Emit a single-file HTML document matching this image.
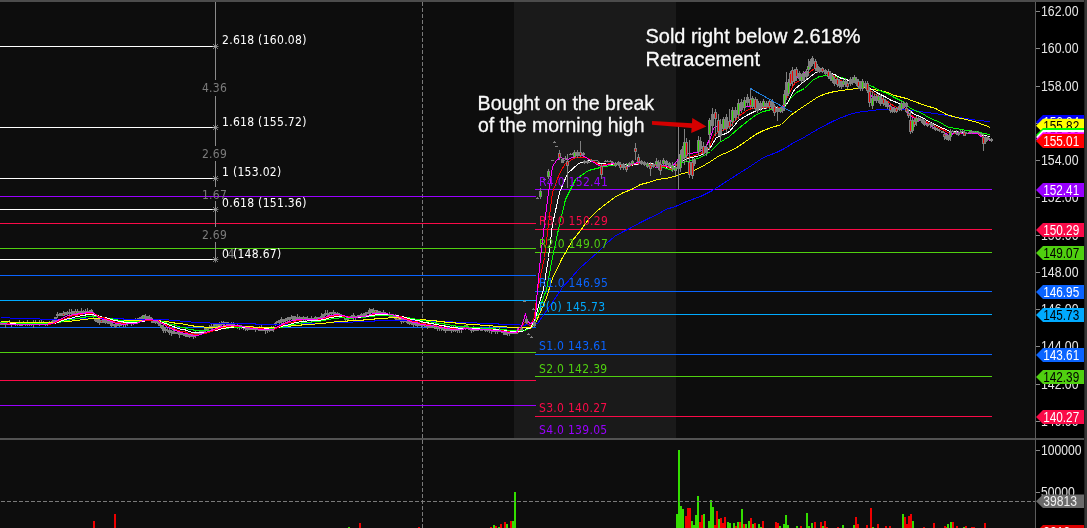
<!DOCTYPE html>
<html><head><meta charset="utf-8"><title>Chart</title>
<style>
html,body{margin:0;padding:0;background:#0d0d0d;}
body{width:1087px;height:528px;overflow:hidden;position:relative;}
svg{position:absolute;left:0;top:0;display:block;}
.t{font-family:"DejaVu Sans Condensed","DejaVu Sans",sans-serif;font-size:12px;letter-spacing:0.3px;}
.g{font-family:"DejaVu Sans Condensed","DejaVu Sans",sans-serif;font-size:12px;letter-spacing:0.3px;fill:#7c7c7c;}
.ax{font-family:"Liberation Sans",Arial,sans-serif;font-size:13.8px;}
.tg{font-family:"Liberation Sans",Arial,sans-serif;font-size:13.8px;}
.ann{font-family:"Liberation Sans",Arial,sans-serif;font-size:20.8px;fill:#fafafa;stroke:#fafafa;stroke-width:0.3px;}
</style></head><body>
<svg width="1087" height="528" viewBox="0 0 1087 528">
<rect x="0" y="0" width="1087" height="528" fill="#0d0d0d"/>
<rect x="514" y="2" width="162" height="436" fill="#1a1a1a"/>
<rect x="1036" y="2" width="48" height="526" fill="#000"/>
<g shape-rendering="crispEdges">
<rect x="93" y="521" width="2" height="7" fill="#ee0000"/>
<rect x="114" y="514" width="2" height="14" fill="#ee0000"/>
<rect x="348" y="527" width="2" height="1" fill="#33dd00"/>
<rect x="359" y="523" width="2" height="5" fill="#ee0000"/>
<rect x="418" y="527" width="2" height="1" fill="#ee0000"/>
<rect x="490" y="527" width="2" height="1" fill="#ee0000"/>
<rect x="493" y="525" width="2" height="3" fill="#33dd00"/>
<rect x="495" y="526" width="2" height="2" fill="#ee0000"/>
<rect x="498" y="527" width="2" height="1" fill="#33dd00"/>
<rect x="500" y="524" width="2" height="4" fill="#ee0000"/>
<rect x="504" y="522" width="2" height="6" fill="#ee0000"/>
<rect x="506" y="524" width="2" height="4" fill="#33dd00"/>
<rect x="510" y="521" width="2" height="7" fill="#ee0000"/>
<rect x="512" y="521" width="2" height="7" fill="#33dd00"/>
<rect x="514" y="492" width="2" height="36" fill="#33dd00"/>
<rect x="676" y="514" width="2" height="14" fill="#33dd00"/>
<rect x="678" y="450" width="2" height="78" fill="#33dd00"/>
<rect x="680" y="506" width="2" height="22" fill="#33dd00"/>
<rect x="682" y="509" width="2" height="19" fill="#33dd00"/>
<rect x="685" y="516" width="2" height="12" fill="#ee0000"/>
<rect x="687" y="508" width="2" height="20" fill="#ee0000"/>
<rect x="689" y="508" width="2" height="20" fill="#ee0000"/>
<rect x="691" y="521" width="2" height="7" fill="#33dd00"/>
<rect x="693" y="525" width="2" height="3" fill="#33dd00"/>
<rect x="695" y="515" width="2" height="13" fill="#33dd00"/>
<rect x="697" y="496" width="2" height="32" fill="#33dd00"/>
<rect x="699" y="522" width="2" height="6" fill="#ee0000"/>
<rect x="701" y="515" width="2" height="13" fill="#ee0000"/>
<rect x="703" y="514" width="2" height="14" fill="#33dd00"/>
<rect x="708" y="521" width="2" height="7" fill="#33dd00"/>
<rect x="710" y="500" width="2" height="28" fill="#33dd00"/>
<rect x="712" y="507" width="2" height="21" fill="#33dd00"/>
<rect x="714" y="525" width="2" height="3" fill="#ee0000"/>
<rect x="716" y="511" width="2" height="17" fill="#ee0000"/>
<rect x="718" y="519" width="2" height="9" fill="#33dd00"/>
<rect x="720" y="518" width="2" height="10" fill="#ee0000"/>
<rect x="722" y="523" width="2" height="5" fill="#ee0000"/>
<rect x="724" y="517" width="2" height="11" fill="#ee0000"/>
<rect x="727" y="522" width="2" height="6" fill="#33dd00"/>
<rect x="729" y="523" width="2" height="5" fill="#33dd00"/>
<rect x="733" y="523" width="2" height="5" fill="#33dd00"/>
<rect x="735" y="526" width="2" height="2" fill="#ee0000"/>
<rect x="737" y="522" width="2" height="6" fill="#33dd00"/>
<rect x="739" y="522" width="2" height="6" fill="#ee0000"/>
<rect x="741" y="509" width="2" height="19" fill="#33dd00"/>
<rect x="743" y="524" width="2" height="4" fill="#ee0000"/>
<rect x="745" y="524" width="2" height="4" fill="#33dd00"/>
<rect x="748" y="521" width="2" height="7" fill="#33dd00"/>
<rect x="750" y="518" width="2" height="10" fill="#ee0000"/>
<rect x="752" y="524" width="2" height="4" fill="#33dd00"/>
<rect x="754" y="523" width="2" height="5" fill="#ee0000"/>
<rect x="758" y="524" width="2" height="4" fill="#33dd00"/>
<rect x="760" y="527" width="2" height="1" fill="#33dd00"/>
<rect x="762" y="521" width="2" height="7" fill="#ee0000"/>
<rect x="775" y="522" width="2" height="6" fill="#ee0000"/>
<rect x="777" y="523" width="2" height="5" fill="#ee0000"/>
<rect x="779" y="526" width="2" height="2" fill="#33dd00"/>
<rect x="783" y="524" width="2" height="4" fill="#33dd00"/>
<rect x="785" y="515" width="2" height="13" fill="#33dd00"/>
<rect x="787" y="525" width="2" height="3" fill="#33dd00"/>
<rect x="796" y="526" width="2" height="2" fill="#33dd00"/>
<rect x="800" y="526" width="2" height="2" fill="#ee0000"/>
<rect x="806" y="513" width="2" height="15" fill="#33dd00"/>
<rect x="808" y="526" width="2" height="2" fill="#33dd00"/>
<rect x="811" y="523" width="2" height="5" fill="#33dd00"/>
<rect x="814" y="522" width="2" height="6" fill="#ee0000"/>
<rect x="820" y="522" width="2" height="6" fill="#ee0000"/>
<rect x="822" y="526" width="2" height="2" fill="#33dd00"/>
<rect x="824" y="521" width="2" height="7" fill="#ee0000"/>
<rect x="826" y="527" width="2" height="1" fill="#ee0000"/>
<rect x="837" y="527" width="2" height="1" fill="#ee0000"/>
<rect x="842" y="525" width="2" height="3" fill="#33dd00"/>
<rect x="853" y="525" width="2" height="3" fill="#33dd00"/>
<rect x="855" y="517" width="2" height="11" fill="#ee0000"/>
<rect x="857" y="524" width="2" height="4" fill="#ee0000"/>
<rect x="866" y="525" width="2" height="3" fill="#ee0000"/>
<rect x="870" y="508" width="2" height="20" fill="#ee0000"/>
<rect x="872" y="527" width="2" height="1" fill="#33dd00"/>
<rect x="877" y="524" width="2" height="4" fill="#ee0000"/>
<rect x="885" y="526" width="2" height="2" fill="#ee0000"/>
<rect x="889" y="526" width="2" height="2" fill="#ee0000"/>
<rect x="902" y="514" width="2" height="14" fill="#33dd00"/>
<rect x="904" y="517" width="2" height="11" fill="#ee0000"/>
<rect x="906" y="524" width="2" height="4" fill="#ee0000"/>
<rect x="908" y="516" width="2" height="12" fill="#ee0000"/>
<rect x="910" y="514" width="2" height="14" fill="#ee0000"/>
<rect x="912" y="521" width="2" height="7" fill="#33dd00"/>
<rect x="923" y="527" width="2" height="1" fill="#ee0000"/>
<rect x="933" y="523" width="2" height="5" fill="#ee0000"/>
<rect x="944" y="526" width="2" height="2" fill="#ee0000"/>
<rect x="946" y="527" width="2" height="1" fill="#ee0000"/>
<rect x="947" y="524" width="2" height="4" fill="#33dd00"/>
<rect x="950" y="522" width="2" height="6" fill="#33dd00"/>
<rect x="952" y="522" width="2" height="6" fill="#ee0000"/>
<rect x="956" y="526" width="2" height="2" fill="#ee0000"/>
<rect x="963" y="527" width="2" height="1" fill="#33dd00"/>
<rect x="965" y="526" width="2" height="2" fill="#ee0000"/>
<rect x="971" y="527" width="2" height="1" fill="#ee0000"/>
<rect x="973" y="527" width="2" height="1" fill="#ee0000"/>
<rect x="984" y="523" width="2" height="5" fill="#ee0000"/>
</g>
<g shape-rendering="crispEdges">
<line x1="422.5" y1="2" x2="422.5" y2="528" stroke="#7a7a7a" stroke-width="1" stroke-dasharray="4 2"/>
<line x1="1" y1="501.5" x2="1036" y2="501.5" stroke="#7a7a7a" stroke-width="1" stroke-dasharray="4 2"/>
<line x1="0" y1="196.5" x2="536" y2="196.5" stroke="#9900ff" stroke-width="1"/>
<line x1="0" y1="223.5" x2="536" y2="223.5" stroke="#fa0a48" stroke-width="1"/>
<line x1="0" y1="248.5" x2="536" y2="248.5" stroke="#50d010" stroke-width="1"/>
<line x1="0" y1="275.5" x2="536" y2="275.5" stroke="#0a64ff" stroke-width="1"/>
<line x1="0" y1="300.5" x2="536" y2="300.5" stroke="#00aaff" stroke-width="1"/>
<line x1="0" y1="327.5" x2="536" y2="327.5" stroke="#0a64ff" stroke-width="1"/>
<line x1="0" y1="352.5" x2="536" y2="352.5" stroke="#50d010" stroke-width="1"/>
<line x1="0" y1="380.5" x2="536" y2="380.5" stroke="#fa0a48" stroke-width="1"/>
<line x1="0" y1="405.5" x2="536" y2="405.5" stroke="#9900ff" stroke-width="1"/>
<line x1="535" y1="189.5" x2="992" y2="189.5" stroke="#9900ff" stroke-width="1"/>
<line x1="535" y1="229.5" x2="992" y2="229.5" stroke="#fa0a48" stroke-width="1"/>
<line x1="535" y1="252.5" x2="992" y2="252.5" stroke="#50d010" stroke-width="1"/>
<line x1="535" y1="291.5" x2="992" y2="291.5" stroke="#0a64ff" stroke-width="1"/>
<line x1="535" y1="314.5" x2="992" y2="314.5" stroke="#00aaff" stroke-width="1"/>
<line x1="535" y1="354.5" x2="992" y2="354.5" stroke="#0a64ff" stroke-width="1"/>
<line x1="535" y1="376.5" x2="992" y2="376.5" stroke="#50d010" stroke-width="1"/>
<line x1="535" y1="416.5" x2="992" y2="416.5" stroke="#fa0a48" stroke-width="1"/>
<line x1="535" y1="438.5" x2="992" y2="438.5" stroke="#9900ff" stroke-width="1"/>
<line x1="0" y1="46.5" x2="215" y2="46.5" stroke="#ffffff" stroke-width="1"/>
<line x1="0" y1="127.5" x2="215" y2="127.5" stroke="#ffffff" stroke-width="1"/>
<line x1="0" y1="178.5" x2="215" y2="178.5" stroke="#ffffff" stroke-width="1"/>
<line x1="0" y1="209.5" x2="215" y2="209.5" stroke="#ffffff" stroke-width="1"/>
<line x1="0" y1="259.5" x2="215" y2="259.5" stroke="#ffffff" stroke-width="1"/>
<line x1="215.5" y1="2" x2="215.5" y2="80" stroke="#8a8a8a" stroke-width="1"/>
<line x1="215.5" y1="96" x2="215.5" y2="146" stroke="#8a8a8a" stroke-width="1"/>
<line x1="215.5" y1="161" x2="215.5" y2="187" stroke="#8a8a8a" stroke-width="1"/>
<line x1="215.5" y1="201" x2="215.5" y2="227" stroke="#8a8a8a" stroke-width="1"/>
<line x1="215.5" y1="242" x2="215.5" y2="260" stroke="#8a8a8a" stroke-width="1"/>
</g>
<path d="M213,44L218,49M213,49L218,44M215.5,43.5V49.5M212.5,46.5H218.5" stroke="#9a9a9a" stroke-width="0.8" fill="none"/>
<path d="M213,125L218,130M213,130L218,125M215.5,124.5V130.5M212.5,127.5H218.5" stroke="#9a9a9a" stroke-width="0.8" fill="none"/>
<path d="M213,176L218,181M213,181L218,176M215.5,175.5V181.5M212.5,178.5H218.5" stroke="#9a9a9a" stroke-width="0.8" fill="none"/>
<path d="M213,207L218,212M213,212L218,207M215.5,206.5V212.5M212.5,209.5H218.5" stroke="#9a9a9a" stroke-width="0.8" fill="none"/>
<path d="M213,257L218,262M213,262L218,257M215.5,256.5V262.5M212.5,259.5H218.5" stroke="#9a9a9a" stroke-width="0.8" fill="none"/>
<text class="g" x="214.5" y="92.0" text-anchor="middle">4.36</text>
<text class="g" x="214.5" y="157.8" text-anchor="middle">2.69</text>
<text class="g" x="214.5" y="199.3" text-anchor="middle">1.67</text>
<text class="g" x="214.5" y="238.60000000000002" text-anchor="middle">2.69</text>
<g shape-rendering="crispEdges">
<polyline points="0.5,317.5 3.5,317.5 5.5,317.5 8.5,317.5 11.5,318.5 14.5,318.5 16.5,318.5 19.5,318.5 22.5,318.5 24.5,318.5 27.5,318.5 30.5,318.5 32.5,318.5 35.5,318.5 38.5,318.5 41.5,319.5 43.5,319.5 46.5,319.5 49.5,319.5 51.5,319.5 54.5,319.5 57.5,319.5 59.5,319.5 62.5,319.5 65.5,319.5 68.5,319.5 70.5,318.5 73.5,318.5 76.5,318.5 78.5,318.5 81.5,318.5 84.5,318.5 86.5,318.5 89.5,318.5 92.5,318.5 95.5,318.5 97.5,318.5 100.5,318.5 103.5,318.5 105.5,318.5 108.5,318.5 111.5,318.5 113.5,318.5 116.5,318.5 119.5,318.5 122.5,318.5 124.5,319.5 127.5,319.5 130.5,319.5 132.5,319.5 135.5,319.5 138.5,319.5 140.5,319.5 143.5,319.5 146.5,319.5 148.5,319.5 151.5,319.5 154.5,319.5 157.5,319.5 159.5,319.5 162.5,319.5 165.5,319.5 167.5,319.5 170.5,320.5 173.5,320.5 175.5,320.5 178.5,320.5 181.5,321.5 184.5,321.5 186.5,321.5 189.5,321.5 192.5,322.5 194.5,322.5 197.5,322.5 200.5,322.5 202.5,322.5 205.5,322.5 208.5,322.5 211.5,323.5 213.5,323.5 216.5,323.5 219.5,323.5 221.5,323.5 224.5,323.5 227.5,323.5 229.5,323.5 232.5,323.5 235.5,323.5 238.5,323.5 240.5,323.5 243.5,323.5 246.5,323.5 248.5,323.5 251.5,323.5 254.5,323.5 256.5,324.5 259.5,324.5 262.5,324.5 265.5,324.5 267.5,324.5 270.5,324.5 273.5,324.5 275.5,324.5 278.5,324.5 281.5,324.5 283.5,324.5 286.5,324.5 289.5,324.5 292.5,324.5 294.5,324.5 297.5,323.5 300.5,323.5 302.5,323.5 305.5,323.5 308.5,323.5 310.5,323.5 313.5,323.5 316.5,323.5 319.5,323.5 321.5,323.5 324.5,323.5 327.5,322.5 329.5,322.5 332.5,322.5 335.5,322.5 337.5,322.5 340.5,322.5 343.5,322.5 346.5,322.5 348.5,322.5 351.5,322.5 354.5,321.5 356.5,321.5 359.5,321.5 362.5,321.5 364.5,321.5 367.5,321.5 370.5,321.5 373.5,321.5 375.5,320.5 378.5,320.5 381.5,320.5 383.5,320.5 386.5,320.5 389.5,320.5 391.5,320.5 394.5,320.5 397.5,320.5 400.5,320.5 402.5,320.5 405.5,320.5 408.5,320.5 410.5,320.5 413.5,320.5 416.5,320.5 418.5,320.5 421.5,320.5 424.5,320.5 427.5,320.5 429.5,320.5 432.5,321.5 435.5,321.5 437.5,321.5 440.5,321.5 443.5,321.5 445.5,321.5 448.5,321.5 451.5,321.5 454.5,322.5 456.5,322.5 459.5,322.5 462.5,322.5 464.5,322.5 467.5,322.5 470.5,322.5 472.5,322.5 475.5,322.5 478.5,323.5 481.5,323.5 483.5,323.5 486.5,323.5 489.5,323.5 491.5,323.5 494.5,323.5 497.5,323.5 499.5,324.5 502.5,324.5 505.5,324.5 508.5,324.5 510.5,324.5 513.5,324.5 516.5,324.5 518.5,324.5 521.5,325.5 524.5,325.5 526.5,324.5 529.5,324.5 530.5,325.5 537.5,323.5 549.5,306.5 562.5,287.5 579.5,268.5 588.5,260.5 597.5,252.5 606.5,243.5 614.5,236.5 623.5,231.5 631.5,227.5 640.5,222.5 648.5,218.5 657.5,214.5 665.5,209.5 675.5,206.5 686.5,201.5 700.5,196.5 712.5,190.5 729.5,179.5 748.5,167.5 763.5,157.5 776.5,152.5 784.5,148.5 795.5,141.5 800.5,139.5 810.5,133.5 815.5,130.5 828.5,123.5 834.5,120.5 841.5,117.5 849.5,114.5 856.5,112.5 864.5,111.5 872.5,110.5 879.5,109.5 887.5,109.5 895.5,109.5 904.5,109.5 914.5,110.5 925.5,112.5 935.5,113.5 946.5,115.5 956.5,117.5 966.5,118.5 977.5,120.5 990.5,121.5" fill="none" stroke="#0000ff" stroke-width="1"/>
<polyline points="0.5,321.5 3.5,321.5 5.5,321.5 8.5,321.5 11.5,322.5 14.5,322.5 16.5,322.5 19.5,322.5 22.5,322.5 24.5,322.5 27.5,322.5 30.5,322.5 32.5,322.5 35.5,322.5 38.5,322.5 41.5,322.5 43.5,322.5 46.5,322.5 49.5,322.5 51.5,322.5 54.5,322.5 57.5,322.5 59.5,322.5 62.5,321.5 65.5,321.5 68.5,321.5 70.5,321.5 73.5,320.5 76.5,320.5 78.5,320.5 81.5,319.5 84.5,319.5 86.5,319.5 89.5,318.5 92.5,318.5 95.5,318.5 97.5,318.5 100.5,318.5 103.5,319.5 105.5,319.5 108.5,319.5 111.5,319.5 113.5,319.5 116.5,319.5 119.5,320.5 122.5,320.5 124.5,320.5 127.5,320.5 130.5,320.5 132.5,320.5 135.5,320.5 138.5,320.5 140.5,320.5 143.5,320.5 146.5,320.5 148.5,320.5 151.5,320.5 154.5,320.5 157.5,320.5 159.5,320.5 162.5,321.5 165.5,321.5 167.5,321.5 170.5,322.5 173.5,322.5 175.5,323.5 178.5,323.5 181.5,323.5 184.5,324.5 186.5,324.5 189.5,325.5 192.5,325.5 194.5,326.5 197.5,326.5 200.5,326.5 202.5,326.5 205.5,327.5 208.5,327.5 211.5,327.5 213.5,327.5 216.5,327.5 219.5,326.5 221.5,326.5 224.5,326.5 227.5,326.5 229.5,326.5 232.5,326.5 235.5,326.5 238.5,326.5 240.5,326.5 243.5,326.5 246.5,326.5 248.5,326.5 251.5,326.5 254.5,327.5 256.5,327.5 259.5,327.5 262.5,327.5 265.5,327.5 267.5,327.5 270.5,327.5 273.5,327.5 275.5,327.5 278.5,327.5 281.5,327.5 283.5,326.5 286.5,326.5 289.5,326.5 292.5,325.5 294.5,325.5 297.5,325.5 300.5,325.5 302.5,324.5 305.5,324.5 308.5,324.5 310.5,324.5 313.5,324.5 316.5,323.5 319.5,323.5 321.5,323.5 324.5,323.5 327.5,322.5 329.5,322.5 332.5,322.5 335.5,321.5 337.5,321.5 340.5,321.5 343.5,321.5 346.5,321.5 348.5,320.5 351.5,320.5 354.5,320.5 356.5,320.5 359.5,320.5 362.5,320.5 364.5,319.5 367.5,319.5 370.5,319.5 373.5,319.5 375.5,318.5 378.5,318.5 381.5,318.5 383.5,318.5 386.5,318.5 389.5,317.5 391.5,317.5 394.5,317.5 397.5,317.5 400.5,318.5 402.5,318.5 405.5,318.5 408.5,318.5 410.5,318.5 413.5,318.5 416.5,319.5 418.5,319.5 421.5,319.5 424.5,319.5 427.5,320.5 429.5,320.5 432.5,320.5 435.5,320.5 437.5,321.5 440.5,321.5 443.5,321.5 445.5,322.5 448.5,322.5 451.5,322.5 454.5,322.5 456.5,323.5 459.5,323.5 462.5,323.5 464.5,323.5 467.5,324.5 470.5,324.5 472.5,324.5 475.5,324.5 478.5,324.5 481.5,325.5 483.5,325.5 486.5,325.5 489.5,325.5 491.5,325.5 494.5,326.5 497.5,326.5 499.5,326.5 502.5,326.5 505.5,326.5 508.5,327.5 510.5,327.5 513.5,327.5 516.5,327.5 518.5,327.5 521.5,327.5 524.5,327.5 526.5,327.5 529.5,327.5 530.5,328.5 535.5,323.5 546.5,297.5 552.5,278.5 561.5,259.5 572.5,240.5 580.5,230.5 588.5,219.5 597.5,210.5 606.5,203.5 614.5,197.5 623.5,192.5 631.5,189.5 640.5,184.5 648.5,182.5 657.5,179.5 665.5,178.5 674.5,176.5 682.5,173.5 691.5,171.5 700.5,167.5 710.5,161.5 719.5,155.5 729.5,151.5 738.5,146.5 748.5,139.5 755.5,134.5 763.5,130.5 771.5,127.5 781.5,124.5 790.5,115.5 800.5,108.5 809.5,102.5 818.5,96.5 826.5,93.5 834.5,91.5 841.5,90.5 849.5,89.5 856.5,88.5 864.5,87.5 872.5,89.5 879.5,90.5 887.5,92.5 894.5,95.5 906.5,98.5 911.5,100.5 925.5,105.5 935.5,108.5 946.5,114.5 956.5,117.5 966.5,119.5 977.5,122.5 990.5,127.5" fill="none" stroke="#ffff00" stroke-width="1"/>
<polyline points="0.5,322.5 3.5,322.5 5.5,322.5 8.5,323.5 11.5,323.5 14.5,323.5 16.5,323.5 19.5,323.5 22.5,323.5 24.5,323.5 27.5,323.5 30.5,323.5 32.5,323.5 35.5,323.5 38.5,323.5 41.5,323.5 43.5,323.5 46.5,323.5 49.5,323.5 51.5,323.5 54.5,323.5 57.5,322.5 59.5,322.5 62.5,321.5 65.5,320.5 68.5,320.5 70.5,319.5 73.5,319.5 76.5,318.5 78.5,318.5 81.5,317.5 84.5,317.5 86.5,316.5 89.5,316.5 92.5,316.5 95.5,316.5 97.5,316.5 100.5,317.5 103.5,317.5 105.5,317.5 108.5,318.5 111.5,318.5 113.5,319.5 116.5,319.5 119.5,320.5 122.5,320.5 124.5,321.5 127.5,321.5 130.5,321.5 132.5,321.5 135.5,321.5 138.5,321.5 140.5,321.5 143.5,320.5 146.5,320.5 148.5,320.5 151.5,320.5 154.5,320.5 157.5,320.5 159.5,321.5 162.5,321.5 165.5,322.5 167.5,323.5 170.5,324.5 173.5,324.5 175.5,325.5 178.5,326.5 181.5,327.5 184.5,327.5 186.5,328.5 189.5,329.5 192.5,329.5 194.5,330.5 197.5,330.5 200.5,330.5 202.5,330.5 205.5,330.5 208.5,330.5 211.5,330.5 213.5,330.5 216.5,329.5 219.5,329.5 221.5,328.5 224.5,328.5 227.5,328.5 229.5,327.5 232.5,327.5 235.5,327.5 238.5,327.5 240.5,327.5 243.5,327.5 246.5,327.5 248.5,327.5 251.5,327.5 254.5,328.5 256.5,328.5 259.5,328.5 262.5,328.5 265.5,328.5 267.5,328.5 270.5,328.5 273.5,328.5 275.5,328.5 278.5,327.5 281.5,327.5 283.5,326.5 286.5,326.5 289.5,325.5 292.5,324.5 294.5,324.5 297.5,323.5 300.5,323.5 302.5,322.5 305.5,322.5 308.5,322.5 310.5,322.5 313.5,321.5 316.5,321.5 319.5,321.5 321.5,320.5 324.5,320.5 327.5,319.5 329.5,319.5 332.5,318.5 335.5,318.5 337.5,318.5 340.5,317.5 343.5,317.5 346.5,318.5 348.5,318.5 351.5,318.5 354.5,317.5 356.5,317.5 359.5,317.5 362.5,317.5 364.5,317.5 367.5,316.5 370.5,316.5 373.5,316.5 375.5,315.5 378.5,315.5 381.5,315.5 383.5,315.5 386.5,315.5 389.5,315.5 391.5,315.5 394.5,315.5 397.5,315.5 400.5,316.5 402.5,316.5 405.5,317.5 408.5,317.5 410.5,318.5 413.5,318.5 416.5,319.5 418.5,319.5 421.5,320.5 424.5,320.5 427.5,321.5 429.5,321.5 432.5,322.5 435.5,322.5 437.5,323.5 440.5,323.5 443.5,323.5 445.5,324.5 448.5,324.5 451.5,325.5 454.5,325.5 456.5,326.5 459.5,326.5 462.5,326.5 464.5,326.5 467.5,326.5 470.5,327.5 472.5,327.5 475.5,327.5 478.5,327.5 481.5,328.5 483.5,328.5 486.5,328.5 489.5,328.5 491.5,328.5 494.5,328.5 497.5,329.5 499.5,329.5 502.5,329.5 505.5,329.5 508.5,330.5 510.5,330.5 513.5,330.5 516.5,330.5 518.5,330.5 521.5,330.5 524.5,330.5 526.5,329.5 529.5,328.5 530.5,327.5 535.5,320.5 540.5,305.5 546.5,289.5 552.5,257.5 559.5,224.5 565.5,199.5 575.5,179.5 588.5,170.5 604.5,166.5 620.5,164.5 630.5,164.5 640.5,163.5 650.5,164.5 660.5,166.5 672.5,170.5 682.5,162.5 691.5,160.5 700.5,157.5 710.5,151.5 719.5,142.5 729.5,136.5 738.5,128.5 748.5,120.5 756.5,114.5 763.5,111.5 771.5,109.5 778.5,109.5 784.5,107.5 790.5,98.5 796.5,92.5 804.5,88.5 812.5,80.5 819.5,76.5 826.5,75.5 834.5,76.5 841.5,77.5 849.5,80.5 856.5,81.5 865.5,83.5 872.5,86.5 879.5,90.5 887.5,93.5 894.5,97.5 904.5,102.5 909.5,107.5 914.5,110.5 920.5,112.5 925.5,115.5 930.5,118.5 935.5,120.5 940.5,122.5 946.5,126.5 949.5,127.5 956.5,128.5 966.5,130.5 977.5,131.5 983.5,133.5 990.5,134.5" fill="none" stroke="#00ff00" stroke-width="1"/>
<polyline points="0.5,323.5 3.5,323.5 5.5,323.5 8.5,323.5 11.5,323.5 14.5,323.5 16.5,324.5 19.5,324.5 22.5,324.5 24.5,324.5 27.5,324.5 30.5,324.5 32.5,324.5 35.5,324.5 38.5,324.5 41.5,324.5 43.5,324.5 46.5,324.5 49.5,324.5 51.5,323.5 54.5,323.5 57.5,322.5 59.5,321.5 62.5,320.5 65.5,319.5 68.5,318.5 70.5,318.5 73.5,317.5 76.5,316.5 78.5,316.5 81.5,315.5 84.5,315.5 86.5,314.5 89.5,314.5 92.5,314.5 95.5,315.5 97.5,315.5 100.5,316.5 103.5,317.5 105.5,317.5 108.5,318.5 111.5,319.5 113.5,320.5 116.5,320.5 119.5,321.5 122.5,321.5 124.5,322.5 127.5,322.5 130.5,322.5 132.5,322.5 135.5,322.5 138.5,322.5 140.5,321.5 143.5,321.5 146.5,320.5 148.5,320.5 151.5,320.5 154.5,320.5 157.5,320.5 159.5,321.5 162.5,322.5 165.5,323.5 167.5,324.5 170.5,325.5 173.5,326.5 175.5,327.5 178.5,328.5 181.5,329.5 184.5,329.5 186.5,330.5 189.5,331.5 192.5,332.5 194.5,332.5 197.5,332.5 200.5,332.5 202.5,332.5 205.5,332.5 208.5,331.5 211.5,331.5 213.5,330.5 216.5,330.5 219.5,329.5 221.5,328.5 224.5,328.5 227.5,327.5 229.5,327.5 232.5,327.5 235.5,326.5 238.5,326.5 240.5,326.5 243.5,327.5 246.5,327.5 248.5,327.5 251.5,327.5 254.5,328.5 256.5,328.5 259.5,328.5 262.5,328.5 265.5,328.5 267.5,328.5 270.5,329.5 273.5,329.5 275.5,328.5 278.5,327.5 281.5,326.5 283.5,325.5 286.5,325.5 289.5,324.5 292.5,323.5 294.5,322.5 297.5,322.5 300.5,321.5 302.5,321.5 305.5,321.5 308.5,320.5 310.5,320.5 313.5,320.5 316.5,320.5 319.5,320.5 321.5,319.5 324.5,319.5 327.5,318.5 329.5,317.5 332.5,317.5 335.5,316.5 337.5,316.5 340.5,316.5 343.5,316.5 346.5,316.5 348.5,317.5 351.5,317.5 354.5,317.5 356.5,317.5 359.5,317.5 362.5,316.5 364.5,316.5 367.5,316.5 370.5,315.5 373.5,315.5 375.5,314.5 378.5,314.5 381.5,314.5 383.5,314.5 386.5,314.5 389.5,314.5 391.5,314.5 394.5,315.5 397.5,315.5 400.5,316.5 402.5,316.5 405.5,317.5 408.5,318.5 410.5,319.5 413.5,319.5 416.5,320.5 418.5,320.5 421.5,321.5 424.5,322.5 427.5,322.5 429.5,323.5 432.5,323.5 435.5,324.5 437.5,324.5 440.5,325.5 443.5,325.5 445.5,326.5 448.5,326.5 451.5,327.5 454.5,327.5 456.5,327.5 459.5,328.5 462.5,328.5 464.5,328.5 467.5,328.5 470.5,328.5 472.5,328.5 475.5,328.5 478.5,328.5 481.5,329.5 483.5,329.5 486.5,329.5 489.5,329.5 491.5,329.5 494.5,329.5 497.5,329.5 499.5,330.5 502.5,330.5 505.5,330.5 508.5,331.5 510.5,331.5 513.5,331.5 516.5,331.5 518.5,331.5 521.5,331.5 524.5,330.5 526.5,328.5 529.5,328.5 530.5,327.5 535.5,318.5 538.5,305.5 543.5,289.5 548.5,257.5 552.5,224.5 559.5,192.5 567.5,173.5 578.5,163.5 588.5,160.5 600.5,163.5 610.5,164.5 620.5,164.5 630.5,165.5 640.5,163.5 650.5,163.5 660.5,165.5 672.5,168.5 682.5,160.5 691.5,157.5 700.5,155.5 710.5,147.5 716.5,137.5 723.5,134.5 729.5,131.5 738.5,120.5 748.5,114.5 756.5,110.5 763.5,108.5 772.5,106.5 781.5,108.5 786.5,104.5 794.5,89.5 801.5,83.5 809.5,77.5 815.5,72.5 821.5,70.5 826.5,72.5 834.5,74.5 841.5,78.5 849.5,80.5 856.5,81.5 864.5,83.5 870.5,88.5 876.5,92.5 884.5,96.5 891.5,100.5 899.5,103.5 904.5,105.5 909.5,110.5 914.5,114.5 920.5,116.5 925.5,119.5 930.5,122.5 935.5,124.5 940.5,127.5 946.5,129.5 949.5,131.5 956.5,131.5 966.5,133.5 977.5,133.5 983.5,135.5 990.5,136.5" fill="none" stroke="#ffffff" stroke-width="1"/>
<polyline points="0.5,323.5 3.5,323.5 5.5,323.5 8.5,323.5 11.5,324.5 14.5,324.5 16.5,324.5 19.5,324.5 22.5,324.5 24.5,324.5 27.5,324.5 30.5,324.5 32.5,324.5 35.5,324.5 38.5,324.5 41.5,324.5 43.5,324.5 46.5,324.5 49.5,324.5 51.5,323.5 54.5,323.5 57.5,321.5 59.5,320.5 62.5,319.5 65.5,318.5 68.5,317.5 70.5,316.5 73.5,315.5 76.5,315.5 78.5,314.5 81.5,314.5 84.5,313.5 86.5,313.5 89.5,313.5 92.5,313.5 95.5,314.5 97.5,315.5 100.5,317.5 103.5,317.5 105.5,318.5 108.5,319.5 111.5,320.5 113.5,321.5 116.5,322.5 119.5,322.5 122.5,323.5 124.5,323.5 127.5,323.5 130.5,323.5 132.5,323.5 135.5,323.5 138.5,322.5 140.5,321.5 143.5,320.5 146.5,320.5 148.5,320.5 151.5,320.5 154.5,320.5 157.5,320.5 159.5,321.5 162.5,323.5 165.5,324.5 167.5,325.5 170.5,327.5 173.5,328.5 175.5,329.5 178.5,330.5 181.5,331.5 184.5,331.5 186.5,332.5 189.5,333.5 192.5,333.5 194.5,334.5 197.5,334.5 200.5,334.5 202.5,333.5 205.5,333.5 208.5,332.5 211.5,331.5 213.5,330.5 216.5,329.5 219.5,328.5 221.5,327.5 224.5,327.5 227.5,326.5 229.5,326.5 232.5,325.5 235.5,326.5 238.5,326.5 240.5,326.5 243.5,326.5 246.5,327.5 248.5,327.5 251.5,327.5 254.5,328.5 256.5,328.5 259.5,328.5 262.5,328.5 265.5,329.5 267.5,329.5 270.5,329.5 273.5,329.5 275.5,328.5 278.5,327.5 281.5,325.5 283.5,324.5 286.5,323.5 289.5,322.5 292.5,322.5 294.5,321.5 297.5,320.5 300.5,320.5 302.5,319.5 305.5,319.5 308.5,319.5 310.5,319.5 313.5,319.5 316.5,319.5 319.5,319.5 321.5,318.5 324.5,318.5 327.5,317.5 329.5,316.5 332.5,316.5 335.5,315.5 337.5,315.5 340.5,315.5 343.5,316.5 346.5,316.5 348.5,316.5 351.5,317.5 354.5,317.5 356.5,317.5 359.5,316.5 362.5,316.5 364.5,316.5 367.5,315.5 370.5,314.5 373.5,314.5 375.5,313.5 378.5,313.5 381.5,313.5 383.5,313.5 386.5,313.5 389.5,314.5 391.5,314.5 394.5,315.5 397.5,316.5 400.5,316.5 402.5,317.5 405.5,318.5 408.5,319.5 410.5,320.5 413.5,321.5 416.5,321.5 418.5,322.5 421.5,323.5 424.5,323.5 427.5,324.5 429.5,324.5 432.5,325.5 435.5,325.5 437.5,326.5 440.5,326.5 443.5,327.5 445.5,327.5 448.5,328.5 451.5,328.5 454.5,328.5 456.5,329.5 459.5,329.5 462.5,329.5 464.5,328.5 467.5,328.5 470.5,328.5 472.5,329.5 475.5,329.5 478.5,329.5 481.5,329.5 483.5,329.5 486.5,329.5 489.5,329.5 491.5,329.5 494.5,330.5 497.5,330.5 499.5,330.5 502.5,330.5 505.5,331.5 508.5,331.5 510.5,332.5 513.5,332.5 516.5,332.5 518.5,331.5 520.5,328.5 524.5,322.5 527.5,323.5 530.5,326.5 534.5,316.5 537.5,290.5 540.5,275.5 544.5,257.5 548.5,224.5 552.5,192.5 559.5,173.5 565.5,163.5 575.5,157.5 585.5,157.5 592.5,160.5 600.5,165.5 610.5,163.5 620.5,165.5 627.5,166.5 635.5,163.5 645.5,163.5 655.5,165.5 665.5,166.5 672.5,169.5 682.5,158.5 691.5,156.5 700.5,153.5 708.5,149.5 714.5,134.5 719.5,131.5 729.5,127.5 738.5,116.5 748.5,109.5 752.5,108.5 763.5,107.5 775.5,108.5 783.5,106.5 787.5,96.5 794.5,83.5 801.5,79.5 809.5,72.5 815.5,67.5 821.5,70.5 828.5,71.5 836.5,78.5 846.5,83.5 856.5,82.5 864.5,84.5 870.5,90.5 878.5,96.5 886.5,100.5 894.5,106.5 900.5,108.5 904.5,107.5 910.5,114.5 914.5,117.5 925.5,121.5 935.5,126.5 940.5,128.5 946.5,131.5 949.5,133.5 977.5,133.5 983.5,137.5 990.5,138.5" fill="none" stroke="#ff0000" stroke-width="1"/>
<polyline points="0.5,323.5 3.5,323.5 5.5,323.5 8.5,324.5 11.5,324.5 14.5,324.5 16.5,324.5 19.5,324.5 22.5,324.5 24.5,324.5 27.5,324.5 30.5,324.5 32.5,324.5 35.5,324.5 38.5,324.5 41.5,324.5 43.5,324.5 46.5,324.5 49.5,323.5 51.5,323.5 54.5,322.5 57.5,320.5 59.5,319.5 62.5,318.5 65.5,316.5 68.5,315.5 70.5,315.5 73.5,314.5 76.5,314.5 78.5,313.5 81.5,313.5 84.5,313.5 86.5,312.5 89.5,312.5 92.5,312.5 95.5,314.5 97.5,316.5 100.5,318.5 103.5,319.5 105.5,319.5 108.5,320.5 111.5,321.5 113.5,322.5 116.5,323.5 119.5,323.5 122.5,324.5 124.5,324.5 127.5,323.5 130.5,323.5 132.5,323.5 135.5,323.5 138.5,322.5 140.5,321.5 143.5,320.5 146.5,319.5 148.5,319.5 151.5,319.5 154.5,320.5 157.5,320.5 159.5,322.5 162.5,323.5 165.5,325.5 167.5,327.5 170.5,328.5 173.5,329.5 175.5,330.5 178.5,331.5 181.5,332.5 184.5,333.5 186.5,333.5 189.5,334.5 192.5,335.5 194.5,335.5 197.5,335.5 200.5,334.5 202.5,333.5 205.5,332.5 208.5,331.5 211.5,330.5 213.5,329.5 216.5,328.5 219.5,327.5 221.5,326.5 224.5,325.5 227.5,325.5 229.5,325.5 232.5,325.5 235.5,325.5 238.5,325.5 240.5,326.5 243.5,326.5 246.5,327.5 248.5,327.5 251.5,328.5 254.5,328.5 256.5,328.5 259.5,329.5 262.5,329.5 265.5,329.5 267.5,329.5 270.5,329.5 273.5,329.5 275.5,327.5 278.5,326.5 281.5,324.5 283.5,323.5 286.5,322.5 289.5,321.5 292.5,320.5 294.5,320.5 297.5,319.5 300.5,319.5 302.5,319.5 305.5,319.5 308.5,319.5 310.5,319.5 313.5,319.5 316.5,319.5 319.5,318.5 321.5,318.5 324.5,317.5 327.5,316.5 329.5,315.5 332.5,315.5 335.5,314.5 337.5,314.5 340.5,315.5 343.5,315.5 346.5,316.5 348.5,317.5 351.5,317.5 354.5,317.5 356.5,317.5 359.5,316.5 362.5,316.5 364.5,316.5 367.5,315.5 370.5,314.5 373.5,313.5 375.5,313.5 378.5,313.5 381.5,313.5 383.5,313.5 386.5,313.5 389.5,314.5 391.5,314.5 394.5,315.5 397.5,316.5 400.5,317.5 402.5,318.5 405.5,319.5 408.5,320.5 410.5,321.5 413.5,322.5 416.5,322.5 418.5,323.5 421.5,324.5 424.5,324.5 427.5,325.5 429.5,325.5 432.5,325.5 435.5,326.5 437.5,326.5 440.5,327.5 443.5,327.5 445.5,328.5 448.5,328.5 451.5,329.5 454.5,329.5 456.5,329.5 459.5,329.5 462.5,329.5 464.5,328.5 467.5,328.5 470.5,328.5 472.5,329.5 475.5,329.5 478.5,329.5 481.5,329.5 483.5,329.5 486.5,329.5 489.5,329.5 491.5,330.5 494.5,330.5 497.5,330.5 499.5,330.5 502.5,331.5 505.5,331.5 508.5,332.5 510.5,332.5 513.5,332.5 516.5,332.5 518.5,328.5 521.5,326.5 523.5,320.5 525.5,313.5 526.5,318.5 528.5,322.5 530.5,323.5 532.5,322.5 535.5,320.5 536.5,300.5 537.5,289.5 540.5,257.5 544.5,224.5 548.5,192.5 552.5,166.5 556.5,160.5 560.5,157.5 567.5,159.5 572.5,157.5 578.5,154.5 584.5,156.5 590.5,160.5 600.5,166.5 605.5,165.5 612.5,163.5 620.5,165.5 627.5,167.5 633.5,163.5 638.5,162.5 645.5,163.5 650.5,165.5 656.5,167.5 663.5,165.5 668.5,166.5 672.5,166.5 680.5,156.5 683.5,151.5 689.5,153.5 697.5,152.5 704.5,149.5 710.5,137.5 713.5,128.5 716.5,126.5 721.5,128.5 729.5,122.5 736.5,113.5 744.5,106.5 748.5,106.5 757.5,106.5 766.5,104.5 772.5,106.5 778.5,110.5 783.5,108.5 787.5,86.5 794.5,77.5 801.5,76.5 809.5,67.5 813.5,62.5 818.5,67.5 824.5,70.5 830.5,76.5 838.5,82.5 846.5,84.5 854.5,80.5 860.5,84.5 866.5,86.5 870.5,95.5 876.5,98.5 884.5,101.5 890.5,106.5 896.5,109.5 902.5,106.5 904.5,107.5 910.5,116.5 920.5,120.5 925.5,122.5 935.5,128.5 946.5,133.5 949.5,136.5 954.5,132.5 966.5,133.5 977.5,133.5 983.5,138.5 990.5,140.5" fill="none" stroke="#ff00ff" stroke-width="1"/>
</g>
<g shape-rendering="crispEdges">
<rect x="1" y="321" width="1" height="4" fill="#808080"/>
<rect x="0" y="322" width="3" height="3" fill="#808080"/>
<rect x="3" y="322" width="1" height="3" fill="#808080"/>
<rect x="2" y="322" width="3" height="3" fill="#808080"/>
<rect x="3" y="323" width="1" height="1" fill="#33dd00"/>
<rect x="5" y="322" width="1" height="6" fill="#808080"/>
<rect x="4" y="322" width="3" height="3" fill="#808080"/>
<rect x="7" y="322" width="1" height="3" fill="#808080"/>
<rect x="6" y="323" width="3" height="2" fill="#808080"/>
<rect x="9" y="320" width="1" height="5" fill="#808080"/>
<rect x="8" y="323" width="3" height="2" fill="#808080"/>
<rect x="11" y="323" width="1" height="4" fill="#808080"/>
<rect x="10" y="323" width="3" height="2" fill="#808080"/>
<rect x="13" y="323" width="1" height="2" fill="#808080"/>
<rect x="12" y="323" width="3" height="2" fill="#808080"/>
<rect x="15" y="322" width="1" height="4" fill="#808080"/>
<rect x="14" y="323" width="3" height="2" fill="#808080"/>
<rect x="17" y="322" width="1" height="4" fill="#808080"/>
<rect x="16" y="323" width="3" height="2" fill="#808080"/>
<rect x="19" y="320" width="1" height="6" fill="#808080"/>
<rect x="18" y="323" width="3" height="2" fill="#808080"/>
<rect x="21" y="322" width="1" height="4" fill="#808080"/>
<rect x="20" y="322" width="3" height="4" fill="#808080"/>
<rect x="23" y="321" width="1" height="4" fill="#808080"/>
<rect x="22" y="323" width="3" height="2" fill="#808080"/>
<rect x="25" y="322" width="1" height="4" fill="#808080"/>
<rect x="24" y="323" width="3" height="2" fill="#808080"/>
<rect x="27" y="320" width="1" height="6" fill="#808080"/>
<rect x="26" y="322" width="3" height="3" fill="#808080"/>
<rect x="27" y="323" width="1" height="1" fill="#ee0000"/>
<rect x="29" y="322" width="1" height="4" fill="#808080"/>
<rect x="28" y="322" width="3" height="3" fill="#808080"/>
<rect x="31" y="322" width="1" height="4" fill="#808080"/>
<rect x="30" y="323" width="3" height="1" fill="#808080"/>
<rect x="33" y="320" width="1" height="8" fill="#808080"/>
<rect x="32" y="322" width="3" height="3" fill="#808080"/>
<rect x="35" y="320" width="1" height="4" fill="#808080"/>
<rect x="34" y="323" width="3" height="1" fill="#808080"/>
<rect x="37" y="322" width="1" height="3" fill="#808080"/>
<rect x="36" y="322" width="3" height="3" fill="#808080"/>
<rect x="39" y="320" width="1" height="6" fill="#808080"/>
<rect x="38" y="322" width="3" height="3" fill="#808080"/>
<rect x="41" y="320" width="1" height="5" fill="#808080"/>
<rect x="40" y="322" width="3" height="3" fill="#808080"/>
<rect x="43" y="321" width="1" height="4" fill="#808080"/>
<rect x="42" y="322" width="3" height="3" fill="#808080"/>
<rect x="45" y="322" width="1" height="4" fill="#808080"/>
<rect x="44" y="323" width="3" height="1" fill="#808080"/>
<rect x="47" y="322" width="1" height="4" fill="#808080"/>
<rect x="46" y="322" width="3" height="3" fill="#808080"/>
<rect x="49" y="321" width="1" height="4" fill="#808080"/>
<rect x="48" y="322" width="3" height="2" fill="#808080"/>
<rect x="51" y="321" width="1" height="3" fill="#808080"/>
<rect x="50" y="322" width="3" height="1" fill="#808080"/>
<rect x="53" y="320" width="1" height="2" fill="#808080"/>
<rect x="52" y="320" width="3" height="2" fill="#808080"/>
<rect x="55" y="317" width="1" height="4" fill="#808080"/>
<rect x="54" y="317" width="3" height="4" fill="#808080"/>
<rect x="57" y="312" width="1" height="6" fill="#808080"/>
<rect x="56" y="314" width="3" height="2" fill="#808080"/>
<rect x="59" y="313" width="1" height="3" fill="#808080"/>
<rect x="58" y="314" width="3" height="2" fill="#808080"/>
<rect x="61" y="313" width="1" height="3" fill="#808080"/>
<rect x="60" y="313" width="3" height="3" fill="#808080"/>
<rect x="63" y="311" width="1" height="5" fill="#808080"/>
<rect x="62" y="313" width="3" height="3" fill="#808080"/>
<rect x="63" y="314" width="1" height="1" fill="#ee0000"/>
<rect x="65" y="312" width="1" height="3" fill="#808080"/>
<rect x="64" y="312" width="3" height="3" fill="#808080"/>
<rect x="67" y="311" width="1" height="5" fill="#808080"/>
<rect x="66" y="312" width="3" height="2" fill="#808080"/>
<rect x="69" y="309" width="1" height="7" fill="#808080"/>
<rect x="68" y="312" width="3" height="2" fill="#808080"/>
<rect x="71" y="309" width="1" height="6" fill="#808080"/>
<rect x="70" y="312" width="3" height="2" fill="#808080"/>
<rect x="73" y="311" width="1" height="4" fill="#808080"/>
<rect x="72" y="311" width="3" height="3" fill="#808080"/>
<rect x="75" y="309" width="1" height="6" fill="#808080"/>
<rect x="74" y="311" width="3" height="3" fill="#808080"/>
<rect x="75" y="312" width="1" height="1" fill="#ee0000"/>
<rect x="77" y="309" width="1" height="6" fill="#808080"/>
<rect x="76" y="311" width="3" height="3" fill="#808080"/>
<rect x="77" y="312" width="1" height="1" fill="#33dd00"/>
<rect x="79" y="311" width="1" height="4" fill="#808080"/>
<rect x="78" y="311" width="3" height="2" fill="#808080"/>
<rect x="81" y="308" width="1" height="6" fill="#808080"/>
<rect x="80" y="311" width="3" height="2" fill="#808080"/>
<rect x="83" y="310" width="1" height="4" fill="#808080"/>
<rect x="82" y="311" width="3" height="2" fill="#808080"/>
<rect x="85" y="309" width="1" height="5" fill="#808080"/>
<rect x="84" y="311" width="3" height="2" fill="#808080"/>
<rect x="87" y="308" width="1" height="6" fill="#808080"/>
<rect x="86" y="311" width="3" height="2" fill="#808080"/>
<rect x="89" y="310" width="1" height="4" fill="#808080"/>
<rect x="88" y="311" width="3" height="2" fill="#808080"/>
<rect x="91" y="309" width="1" height="5" fill="#808080"/>
<rect x="90" y="310" width="3" height="4" fill="#808080"/>
<rect x="93" y="312" width="1" height="6" fill="#808080"/>
<rect x="92" y="313" width="3" height="4" fill="#808080"/>
<rect x="95" y="318" width="1" height="4" fill="#808080"/>
<rect x="94" y="319" width="3" height="2" fill="#808080"/>
<rect x="97" y="318" width="1" height="5" fill="#808080"/>
<rect x="96" y="319" width="3" height="3" fill="#808080"/>
<rect x="99" y="319" width="1" height="6" fill="#808080"/>
<rect x="98" y="320" width="3" height="3" fill="#808080"/>
<rect x="101" y="320" width="1" height="3" fill="#808080"/>
<rect x="100" y="320" width="3" height="3" fill="#808080"/>
<rect x="101" y="321" width="1" height="1" fill="#ee0000"/>
<rect x="103" y="319" width="1" height="4" fill="#808080"/>
<rect x="102" y="320" width="3" height="3" fill="#808080"/>
<rect x="105" y="320" width="1" height="4" fill="#808080"/>
<rect x="104" y="320" width="3" height="2" fill="#808080"/>
<rect x="107" y="320" width="1" height="4" fill="#808080"/>
<rect x="106" y="321" width="3" height="2" fill="#808080"/>
<rect x="109" y="320" width="1" height="4" fill="#808080"/>
<rect x="108" y="322" width="3" height="2" fill="#808080"/>
<rect x="111" y="320" width="1" height="7" fill="#808080"/>
<rect x="110" y="322" width="3" height="4" fill="#808080"/>
<rect x="113" y="324" width="1" height="2" fill="#808080"/>
<rect x="112" y="324" width="3" height="2" fill="#808080"/>
<rect x="115" y="324" width="1" height="4" fill="#808080"/>
<rect x="114" y="324" width="3" height="3" fill="#808080"/>
<rect x="117" y="321" width="1" height="5" fill="#808080"/>
<rect x="116" y="324" width="3" height="2" fill="#808080"/>
<rect x="119" y="323" width="1" height="4" fill="#808080"/>
<rect x="118" y="323" width="3" height="3" fill="#808080"/>
<rect x="119" y="324" width="1" height="1" fill="#33dd00"/>
<rect x="121" y="321" width="1" height="5" fill="#808080"/>
<rect x="120" y="323" width="3" height="2" fill="#808080"/>
<rect x="123" y="320" width="1" height="7" fill="#808080"/>
<rect x="122" y="322" width="3" height="3" fill="#808080"/>
<rect x="125" y="320" width="1" height="7" fill="#808080"/>
<rect x="124" y="322" width="3" height="3" fill="#808080"/>
<rect x="127" y="322" width="1" height="4" fill="#808080"/>
<rect x="126" y="322" width="3" height="2" fill="#808080"/>
<rect x="129" y="320" width="1" height="4" fill="#808080"/>
<rect x="128" y="322" width="3" height="2" fill="#808080"/>
<rect x="131" y="320" width="1" height="6" fill="#808080"/>
<rect x="130" y="321" width="3" height="3" fill="#808080"/>
<rect x="133" y="319" width="1" height="6" fill="#808080"/>
<rect x="132" y="321" width="3" height="2" fill="#808080"/>
<rect x="135" y="318" width="1" height="6" fill="#808080"/>
<rect x="134" y="320" width="3" height="4" fill="#808080"/>
<rect x="137" y="318" width="1" height="6" fill="#808080"/>
<rect x="136" y="319" width="3" height="3" fill="#808080"/>
<rect x="139" y="317" width="1" height="4" fill="#808080"/>
<rect x="138" y="318" width="3" height="2" fill="#808080"/>
<rect x="141" y="316" width="1" height="6" fill="#808080"/>
<rect x="140" y="317" width="3" height="2" fill="#808080"/>
<rect x="143" y="315" width="1" height="5" fill="#808080"/>
<rect x="142" y="315" width="3" height="4" fill="#808080"/>
<rect x="143" y="316" width="1" height="2" fill="#33dd00"/>
<rect x="145" y="314" width="1" height="5" fill="#808080"/>
<rect x="144" y="316" width="3" height="2" fill="#808080"/>
<rect x="147" y="316" width="1" height="5" fill="#808080"/>
<rect x="146" y="316" width="3" height="3" fill="#808080"/>
<rect x="149" y="315" width="1" height="6" fill="#808080"/>
<rect x="148" y="317" width="3" height="3" fill="#808080"/>
<rect x="151" y="317" width="1" height="6" fill="#808080"/>
<rect x="150" y="318" width="3" height="3" fill="#808080"/>
<rect x="153" y="319" width="1" height="4" fill="#808080"/>
<rect x="152" y="319" width="3" height="4" fill="#808080"/>
<rect x="155" y="319" width="1" height="5" fill="#808080"/>
<rect x="154" y="320" width="3" height="3" fill="#808080"/>
<rect x="157" y="320" width="1" height="4" fill="#808080"/>
<rect x="156" y="322" width="3" height="1" fill="#808080"/>
<rect x="159" y="323" width="1" height="3" fill="#808080"/>
<rect x="158" y="323" width="3" height="3" fill="#808080"/>
<rect x="161" y="325" width="1" height="4" fill="#808080"/>
<rect x="160" y="325" width="3" height="3" fill="#808080"/>
<rect x="161" y="326" width="1" height="1" fill="#33dd00"/>
<rect x="163" y="325" width="1" height="8" fill="#808080"/>
<rect x="162" y="327" width="3" height="4" fill="#808080"/>
<rect x="165" y="327" width="1" height="6" fill="#808080"/>
<rect x="164" y="329" width="3" height="2" fill="#808080"/>
<rect x="167" y="328" width="1" height="4" fill="#808080"/>
<rect x="166" y="330" width="3" height="1" fill="#808080"/>
<rect x="169" y="328" width="1" height="7" fill="#808080"/>
<rect x="168" y="330" width="3" height="3" fill="#808080"/>
<rect x="171" y="330" width="1" height="6" fill="#808080"/>
<rect x="170" y="331" width="3" height="2" fill="#808080"/>
<rect x="173" y="330" width="1" height="4" fill="#808080"/>
<rect x="172" y="331" width="3" height="3" fill="#808080"/>
<rect x="175" y="332" width="1" height="2" fill="#808080"/>
<rect x="174" y="332" width="3" height="2" fill="#808080"/>
<rect x="177" y="332" width="1" height="2" fill="#808080"/>
<rect x="176" y="333" width="3" height="1" fill="#808080"/>
<rect x="179" y="332" width="1" height="6" fill="#808080"/>
<rect x="178" y="332" width="3" height="3" fill="#808080"/>
<rect x="181" y="333" width="1" height="2" fill="#808080"/>
<rect x="180" y="333" width="3" height="2" fill="#808080"/>
<rect x="183" y="334" width="1" height="2" fill="#808080"/>
<rect x="182" y="334" width="3" height="1" fill="#808080"/>
<rect x="185" y="333" width="1" height="4" fill="#808080"/>
<rect x="184" y="333" width="3" height="3" fill="#808080"/>
<rect x="187" y="333" width="1" height="4" fill="#808080"/>
<rect x="186" y="334" width="3" height="3" fill="#808080"/>
<rect x="189" y="334" width="1" height="4" fill="#808080"/>
<rect x="188" y="335" width="3" height="1" fill="#808080"/>
<rect x="191" y="334" width="1" height="3" fill="#808080"/>
<rect x="190" y="335" width="3" height="2" fill="#808080"/>
<rect x="193" y="334" width="1" height="5" fill="#808080"/>
<rect x="192" y="334" width="3" height="3" fill="#808080"/>
<rect x="193" y="335" width="1" height="1" fill="#33dd00"/>
<rect x="195" y="331" width="1" height="7" fill="#808080"/>
<rect x="194" y="333" width="3" height="3" fill="#808080"/>
<rect x="197" y="333" width="1" height="3" fill="#808080"/>
<rect x="196" y="333" width="3" height="2" fill="#808080"/>
<rect x="199" y="331" width="1" height="4" fill="#808080"/>
<rect x="198" y="332" width="3" height="3" fill="#808080"/>
<rect x="201" y="330" width="1" height="5" fill="#808080"/>
<rect x="200" y="331" width="3" height="3" fill="#808080"/>
<rect x="203" y="330" width="1" height="4" fill="#808080"/>
<rect x="202" y="330" width="3" height="2" fill="#808080"/>
<rect x="205" y="328" width="1" height="4" fill="#808080"/>
<rect x="204" y="328" width="3" height="3" fill="#808080"/>
<rect x="207" y="327" width="1" height="3" fill="#808080"/>
<rect x="206" y="327" width="3" height="3" fill="#808080"/>
<rect x="207" y="328" width="1" height="1" fill="#33dd00"/>
<rect x="209" y="325" width="1" height="4" fill="#808080"/>
<rect x="208" y="327" width="3" height="1" fill="#808080"/>
<rect x="211" y="323" width="1" height="7" fill="#808080"/>
<rect x="210" y="326" width="3" height="3" fill="#808080"/>
<rect x="211" y="327" width="1" height="1" fill="#33dd00"/>
<rect x="213" y="324" width="1" height="4" fill="#808080"/>
<rect x="212" y="326" width="3" height="1" fill="#808080"/>
<rect x="215" y="324" width="1" height="4" fill="#808080"/>
<rect x="214" y="324" width="3" height="4" fill="#808080"/>
<rect x="215" y="325" width="1" height="2" fill="#33dd00"/>
<rect x="217" y="323" width="1" height="4" fill="#808080"/>
<rect x="216" y="324" width="3" height="3" fill="#808080"/>
<rect x="219" y="322" width="1" height="5" fill="#808080"/>
<rect x="218" y="323" width="3" height="3" fill="#808080"/>
<rect x="221" y="321" width="1" height="7" fill="#808080"/>
<rect x="220" y="323" width="3" height="2" fill="#808080"/>
<rect x="223" y="321" width="1" height="6" fill="#808080"/>
<rect x="222" y="322" width="3" height="3" fill="#808080"/>
<rect x="225" y="322" width="1" height="2" fill="#808080"/>
<rect x="224" y="322" width="3" height="2" fill="#808080"/>
<rect x="227" y="322" width="1" height="4" fill="#808080"/>
<rect x="226" y="322" width="3" height="3" fill="#808080"/>
<rect x="227" y="323" width="1" height="1" fill="#33dd00"/>
<rect x="229" y="323" width="1" height="3" fill="#808080"/>
<rect x="228" y="323" width="3" height="2" fill="#808080"/>
<rect x="231" y="322" width="1" height="5" fill="#808080"/>
<rect x="230" y="323" width="3" height="3" fill="#808080"/>
<rect x="233" y="322" width="1" height="6" fill="#808080"/>
<rect x="232" y="324" width="3" height="2" fill="#808080"/>
<rect x="235" y="325" width="1" height="2" fill="#808080"/>
<rect x="234" y="325" width="3" height="2" fill="#808080"/>
<rect x="237" y="324" width="1" height="5" fill="#808080"/>
<rect x="236" y="325" width="3" height="2" fill="#808080"/>
<rect x="239" y="325" width="1" height="5" fill="#808080"/>
<rect x="238" y="325" width="3" height="3" fill="#808080"/>
<rect x="239" y="326" width="1" height="1" fill="#33dd00"/>
<rect x="241" y="325" width="1" height="4" fill="#808080"/>
<rect x="240" y="326" width="3" height="2" fill="#808080"/>
<rect x="243" y="326" width="1" height="4" fill="#808080"/>
<rect x="242" y="327" width="3" height="1" fill="#808080"/>
<rect x="245" y="327" width="1" height="4" fill="#808080"/>
<rect x="244" y="327" width="3" height="2" fill="#808080"/>
<rect x="247" y="327" width="1" height="4" fill="#808080"/>
<rect x="246" y="327" width="3" height="3" fill="#808080"/>
<rect x="249" y="327" width="1" height="3" fill="#808080"/>
<rect x="248" y="328" width="3" height="2" fill="#808080"/>
<rect x="251" y="328" width="1" height="2" fill="#808080"/>
<rect x="250" y="328" width="3" height="2" fill="#808080"/>
<rect x="253" y="326" width="1" height="4" fill="#808080"/>
<rect x="252" y="328" width="3" height="2" fill="#808080"/>
<rect x="255" y="328" width="1" height="4" fill="#808080"/>
<rect x="254" y="328" width="3" height="2" fill="#808080"/>
<rect x="257" y="328" width="1" height="2" fill="#808080"/>
<rect x="256" y="328" width="3" height="2" fill="#808080"/>
<rect x="259" y="326" width="1" height="5" fill="#808080"/>
<rect x="258" y="327" width="3" height="4" fill="#808080"/>
<rect x="261" y="325" width="1" height="6" fill="#808080"/>
<rect x="260" y="328" width="3" height="3" fill="#808080"/>
<rect x="261" y="329" width="1" height="1" fill="#33dd00"/>
<rect x="263" y="328" width="1" height="3" fill="#808080"/>
<rect x="262" y="328" width="3" height="2" fill="#808080"/>
<rect x="265" y="328" width="1" height="6" fill="#808080"/>
<rect x="264" y="328" width="3" height="3" fill="#808080"/>
<rect x="265" y="329" width="1" height="1" fill="#33dd00"/>
<rect x="267" y="328" width="1" height="5" fill="#808080"/>
<rect x="266" y="328" width="3" height="3" fill="#808080"/>
<rect x="269" y="329" width="1" height="3" fill="#808080"/>
<rect x="268" y="329" width="3" height="2" fill="#808080"/>
<rect x="271" y="326" width="1" height="5" fill="#808080"/>
<rect x="270" y="328" width="3" height="3" fill="#808080"/>
<rect x="273" y="326" width="1" height="6" fill="#808080"/>
<rect x="272" y="327" width="3" height="2" fill="#808080"/>
<rect x="275" y="322" width="1" height="4" fill="#808080"/>
<rect x="274" y="323" width="3" height="2" fill="#808080"/>
<rect x="277" y="321" width="1" height="2" fill="#808080"/>
<rect x="276" y="321" width="3" height="2" fill="#808080"/>
<rect x="279" y="320" width="1" height="5" fill="#808080"/>
<rect x="278" y="320" width="3" height="3" fill="#808080"/>
<rect x="281" y="317" width="1" height="8" fill="#808080"/>
<rect x="280" y="319" width="3" height="3" fill="#808080"/>
<rect x="283" y="319" width="1" height="4" fill="#808080"/>
<rect x="282" y="319" width="3" height="3" fill="#808080"/>
<rect x="285" y="318" width="1" height="4" fill="#808080"/>
<rect x="284" y="319" width="3" height="2" fill="#808080"/>
<rect x="287" y="317" width="1" height="5" fill="#808080"/>
<rect x="286" y="318" width="3" height="2" fill="#808080"/>
<rect x="289" y="317" width="1" height="5" fill="#808080"/>
<rect x="288" y="317" width="3" height="3" fill="#808080"/>
<rect x="291" y="315" width="1" height="4" fill="#808080"/>
<rect x="290" y="317" width="3" height="2" fill="#808080"/>
<rect x="293" y="316" width="1" height="4" fill="#808080"/>
<rect x="292" y="316" width="3" height="4" fill="#808080"/>
<rect x="295" y="316" width="1" height="4" fill="#808080"/>
<rect x="294" y="317" width="3" height="2" fill="#808080"/>
<rect x="297" y="314" width="1" height="6" fill="#808080"/>
<rect x="296" y="317" width="3" height="2" fill="#808080"/>
<rect x="299" y="316" width="1" height="6" fill="#808080"/>
<rect x="298" y="317" width="3" height="2" fill="#808080"/>
<rect x="301" y="317" width="1" height="4" fill="#808080"/>
<rect x="300" y="317" width="3" height="2" fill="#808080"/>
<rect x="303" y="316" width="1" height="5" fill="#808080"/>
<rect x="302" y="317" width="3" height="3" fill="#808080"/>
<rect x="303" y="318" width="1" height="1" fill="#33dd00"/>
<rect x="305" y="317" width="1" height="4" fill="#808080"/>
<rect x="304" y="317" width="3" height="3" fill="#808080"/>
<rect x="307" y="316" width="1" height="4" fill="#808080"/>
<rect x="306" y="318" width="3" height="2" fill="#808080"/>
<rect x="309" y="318" width="1" height="2" fill="#808080"/>
<rect x="308" y="318" width="3" height="2" fill="#808080"/>
<rect x="311" y="316" width="1" height="6" fill="#808080"/>
<rect x="310" y="318" width="3" height="2" fill="#808080"/>
<rect x="313" y="318" width="1" height="4" fill="#808080"/>
<rect x="312" y="318" width="3" height="2" fill="#808080"/>
<rect x="315" y="316" width="1" height="5" fill="#808080"/>
<rect x="314" y="317" width="3" height="3" fill="#808080"/>
<rect x="315" y="318" width="1" height="1" fill="#33dd00"/>
<rect x="317" y="317" width="1" height="4" fill="#808080"/>
<rect x="316" y="317" width="3" height="3" fill="#808080"/>
<rect x="319" y="317" width="1" height="5" fill="#808080"/>
<rect x="318" y="317" width="3" height="2" fill="#808080"/>
<rect x="321" y="313" width="1" height="6" fill="#808080"/>
<rect x="320" y="316" width="3" height="3" fill="#808080"/>
<rect x="323" y="314" width="1" height="6" fill="#808080"/>
<rect x="322" y="314" width="3" height="3" fill="#808080"/>
<rect x="325" y="310" width="1" height="6" fill="#808080"/>
<rect x="324" y="313" width="3" height="2" fill="#808080"/>
<rect x="327" y="310" width="1" height="7" fill="#808080"/>
<rect x="326" y="313" width="3" height="2" fill="#808080"/>
<rect x="329" y="312" width="1" height="4" fill="#808080"/>
<rect x="328" y="313" width="3" height="1" fill="#808080"/>
<rect x="331" y="312" width="1" height="3" fill="#808080"/>
<rect x="330" y="312" width="3" height="2" fill="#808080"/>
<rect x="333" y="310" width="1" height="6" fill="#808080"/>
<rect x="332" y="312" width="3" height="2" fill="#808080"/>
<rect x="335" y="312" width="1" height="4" fill="#808080"/>
<rect x="334" y="313" width="3" height="2" fill="#808080"/>
<rect x="337" y="312" width="1" height="4" fill="#808080"/>
<rect x="336" y="313" width="3" height="2" fill="#808080"/>
<rect x="339" y="313" width="1" height="5" fill="#808080"/>
<rect x="338" y="314" width="3" height="2" fill="#808080"/>
<rect x="341" y="314" width="1" height="3" fill="#808080"/>
<rect x="340" y="315" width="3" height="2" fill="#808080"/>
<rect x="343" y="316" width="1" height="2" fill="#808080"/>
<rect x="342" y="317" width="3" height="1" fill="#808080"/>
<rect x="345" y="318" width="1" height="4" fill="#808080"/>
<rect x="344" y="318" width="3" height="2" fill="#808080"/>
<rect x="347" y="316" width="1" height="4" fill="#808080"/>
<rect x="346" y="317" width="3" height="3" fill="#808080"/>
<rect x="349" y="316" width="1" height="2" fill="#808080"/>
<rect x="348" y="317" width="3" height="1" fill="#808080"/>
<rect x="351" y="315" width="1" height="3" fill="#808080"/>
<rect x="350" y="316" width="3" height="2" fill="#808080"/>
<rect x="353" y="313" width="1" height="8" fill="#808080"/>
<rect x="352" y="315" width="3" height="3" fill="#808080"/>
<rect x="355" y="316" width="1" height="4" fill="#808080"/>
<rect x="354" y="316" width="3" height="1" fill="#808080"/>
<rect x="357" y="315" width="1" height="3" fill="#808080"/>
<rect x="356" y="316" width="3" height="1" fill="#808080"/>
<rect x="359" y="315" width="1" height="3" fill="#808080"/>
<rect x="358" y="315" width="3" height="2" fill="#808080"/>
<rect x="361" y="313" width="1" height="5" fill="#808080"/>
<rect x="360" y="314" width="3" height="3" fill="#808080"/>
<rect x="363" y="313" width="1" height="3" fill="#808080"/>
<rect x="362" y="314" width="3" height="2" fill="#808080"/>
<rect x="365" y="312" width="1" height="4" fill="#808080"/>
<rect x="364" y="313" width="3" height="2" fill="#808080"/>
<rect x="367" y="312" width="1" height="2" fill="#808080"/>
<rect x="366" y="312" width="3" height="2" fill="#808080"/>
<rect x="369" y="308" width="1" height="6" fill="#808080"/>
<rect x="368" y="310" width="3" height="4" fill="#808080"/>
<rect x="371" y="309" width="1" height="4" fill="#808080"/>
<rect x="370" y="309" width="3" height="4" fill="#808080"/>
<rect x="373" y="308" width="1" height="6" fill="#808080"/>
<rect x="372" y="310" width="3" height="3" fill="#808080"/>
<rect x="373" y="311" width="1" height="1" fill="#33dd00"/>
<rect x="375" y="310" width="1" height="3" fill="#808080"/>
<rect x="374" y="310" width="3" height="3" fill="#808080"/>
<rect x="375" y="311" width="1" height="1" fill="#ee0000"/>
<rect x="377" y="310" width="1" height="4" fill="#808080"/>
<rect x="376" y="311" width="3" height="2" fill="#808080"/>
<rect x="379" y="311" width="1" height="5" fill="#808080"/>
<rect x="378" y="311" width="3" height="3" fill="#808080"/>
<rect x="381" y="312" width="1" height="4" fill="#808080"/>
<rect x="380" y="312" width="3" height="2" fill="#808080"/>
<rect x="383" y="310" width="1" height="6" fill="#808080"/>
<rect x="382" y="312" width="3" height="3" fill="#808080"/>
<rect x="385" y="312" width="1" height="4" fill="#808080"/>
<rect x="384" y="313" width="3" height="2" fill="#808080"/>
<rect x="387" y="314" width="1" height="2" fill="#808080"/>
<rect x="386" y="314" width="3" height="1" fill="#808080"/>
<rect x="389" y="312" width="1" height="5" fill="#808080"/>
<rect x="388" y="314" width="3" height="2" fill="#808080"/>
<rect x="391" y="314" width="1" height="3" fill="#808080"/>
<rect x="390" y="315" width="3" height="2" fill="#808080"/>
<rect x="393" y="314" width="1" height="4" fill="#808080"/>
<rect x="392" y="315" width="3" height="3" fill="#808080"/>
<rect x="395" y="314" width="1" height="6" fill="#808080"/>
<rect x="394" y="316" width="3" height="3" fill="#808080"/>
<rect x="397" y="316" width="1" height="4" fill="#808080"/>
<rect x="396" y="317" width="3" height="3" fill="#808080"/>
<rect x="397" y="318" width="1" height="1" fill="#ee0000"/>
<rect x="399" y="318" width="1" height="3" fill="#808080"/>
<rect x="398" y="318" width="3" height="3" fill="#808080"/>
<rect x="401" y="319" width="1" height="5" fill="#808080"/>
<rect x="400" y="319" width="3" height="3" fill="#808080"/>
<rect x="403" y="319" width="1" height="4" fill="#808080"/>
<rect x="402" y="320" width="3" height="2" fill="#808080"/>
<rect x="405" y="320" width="1" height="2" fill="#808080"/>
<rect x="404" y="321" width="3" height="1" fill="#808080"/>
<rect x="407" y="319" width="1" height="5" fill="#808080"/>
<rect x="406" y="321" width="3" height="2" fill="#808080"/>
<rect x="409" y="319" width="1" height="6" fill="#808080"/>
<rect x="408" y="321" width="3" height="3" fill="#808080"/>
<rect x="409" y="322" width="1" height="1" fill="#33dd00"/>
<rect x="411" y="322" width="1" height="3" fill="#808080"/>
<rect x="410" y="322" width="3" height="2" fill="#808080"/>
<rect x="413" y="322" width="1" height="5" fill="#808080"/>
<rect x="412" y="322" width="3" height="3" fill="#808080"/>
<rect x="415" y="322" width="1" height="4" fill="#808080"/>
<rect x="414" y="323" width="3" height="2" fill="#808080"/>
<rect x="417" y="323" width="1" height="4" fill="#808080"/>
<rect x="416" y="323" width="3" height="3" fill="#808080"/>
<rect x="419" y="321" width="1" height="5" fill="#808080"/>
<rect x="418" y="324" width="3" height="2" fill="#808080"/>
<rect x="421" y="322" width="1" height="6" fill="#808080"/>
<rect x="420" y="324" width="3" height="2" fill="#808080"/>
<rect x="423" y="322" width="1" height="4" fill="#808080"/>
<rect x="422" y="324" width="3" height="2" fill="#808080"/>
<rect x="425" y="323" width="1" height="4" fill="#808080"/>
<rect x="424" y="324" width="3" height="3" fill="#808080"/>
<rect x="425" y="325" width="1" height="1" fill="#ee0000"/>
<rect x="427" y="323" width="1" height="6" fill="#808080"/>
<rect x="426" y="325" width="3" height="1" fill="#808080"/>
<rect x="429" y="324" width="1" height="4" fill="#808080"/>
<rect x="428" y="324" width="3" height="4" fill="#808080"/>
<rect x="431" y="325" width="1" height="3" fill="#808080"/>
<rect x="430" y="325" width="3" height="2" fill="#808080"/>
<rect x="433" y="324" width="1" height="4" fill="#808080"/>
<rect x="432" y="325" width="3" height="3" fill="#808080"/>
<rect x="433" y="326" width="1" height="1" fill="#33dd00"/>
<rect x="435" y="323" width="1" height="6" fill="#808080"/>
<rect x="434" y="325" width="3" height="4" fill="#808080"/>
<rect x="435" y="326" width="1" height="2" fill="#33dd00"/>
<rect x="437" y="326" width="1" height="5" fill="#808080"/>
<rect x="436" y="326" width="3" height="3" fill="#808080"/>
<rect x="437" y="327" width="1" height="1" fill="#33dd00"/>
<rect x="439" y="326" width="1" height="5" fill="#808080"/>
<rect x="438" y="327" width="3" height="2" fill="#808080"/>
<rect x="441" y="327" width="1" height="4" fill="#808080"/>
<rect x="440" y="327" width="3" height="2" fill="#808080"/>
<rect x="443" y="327" width="1" height="4" fill="#808080"/>
<rect x="442" y="327" width="3" height="3" fill="#808080"/>
<rect x="443" y="328" width="1" height="1" fill="#33dd00"/>
<rect x="445" y="325" width="1" height="8" fill="#808080"/>
<rect x="444" y="327" width="3" height="4" fill="#808080"/>
<rect x="445" y="328" width="1" height="2" fill="#33dd00"/>
<rect x="447" y="327" width="1" height="4" fill="#808080"/>
<rect x="446" y="328" width="3" height="3" fill="#808080"/>
<rect x="449" y="326" width="1" height="5" fill="#808080"/>
<rect x="448" y="329" width="3" height="2" fill="#808080"/>
<rect x="451" y="326" width="1" height="7" fill="#808080"/>
<rect x="450" y="329" width="3" height="2" fill="#808080"/>
<rect x="453" y="326" width="1" height="6" fill="#808080"/>
<rect x="452" y="328" width="3" height="3" fill="#808080"/>
<rect x="455" y="328" width="1" height="4" fill="#808080"/>
<rect x="454" y="329" width="3" height="1" fill="#808080"/>
<rect x="457" y="327" width="1" height="6" fill="#808080"/>
<rect x="456" y="328" width="3" height="3" fill="#808080"/>
<rect x="459" y="328" width="1" height="5" fill="#808080"/>
<rect x="458" y="328" width="3" height="2" fill="#808080"/>
<rect x="461" y="327" width="1" height="6" fill="#808080"/>
<rect x="460" y="327" width="3" height="3" fill="#808080"/>
<rect x="461" y="328" width="1" height="1" fill="#ee0000"/>
<rect x="463" y="326" width="1" height="3" fill="#808080"/>
<rect x="462" y="327" width="3" height="2" fill="#808080"/>
<rect x="465" y="325" width="1" height="5" fill="#808080"/>
<rect x="464" y="325" width="3" height="4" fill="#808080"/>
<rect x="465" y="326" width="1" height="2" fill="#ee0000"/>
<rect x="467" y="325" width="1" height="4" fill="#808080"/>
<rect x="466" y="327" width="3" height="2" fill="#808080"/>
<rect x="469" y="327" width="1" height="3" fill="#808080"/>
<rect x="468" y="328" width="3" height="2" fill="#808080"/>
<rect x="471" y="327" width="1" height="6" fill="#808080"/>
<rect x="470" y="328" width="3" height="3" fill="#808080"/>
<rect x="473" y="326" width="1" height="6" fill="#808080"/>
<rect x="472" y="328" width="3" height="3" fill="#808080"/>
<rect x="475" y="327" width="1" height="4" fill="#808080"/>
<rect x="474" y="328" width="3" height="3" fill="#808080"/>
<rect x="477" y="327" width="1" height="4" fill="#808080"/>
<rect x="476" y="328" width="3" height="3" fill="#808080"/>
<rect x="479" y="328" width="1" height="2" fill="#808080"/>
<rect x="478" y="328" width="3" height="2" fill="#808080"/>
<rect x="481" y="327" width="1" height="4" fill="#808080"/>
<rect x="480" y="328" width="3" height="3" fill="#808080"/>
<rect x="483" y="328" width="1" height="2" fill="#808080"/>
<rect x="482" y="328" width="3" height="2" fill="#808080"/>
<rect x="485" y="328" width="1" height="4" fill="#808080"/>
<rect x="484" y="328" width="3" height="3" fill="#808080"/>
<rect x="487" y="329" width="1" height="3" fill="#808080"/>
<rect x="486" y="329" width="3" height="1" fill="#808080"/>
<rect x="489" y="326" width="1" height="7" fill="#808080"/>
<rect x="488" y="329" width="3" height="2" fill="#808080"/>
<rect x="491" y="329" width="1" height="5" fill="#808080"/>
<rect x="490" y="329" width="3" height="2" fill="#808080"/>
<rect x="493" y="327" width="1" height="5" fill="#808080"/>
<rect x="492" y="329" width="3" height="3" fill="#808080"/>
<rect x="495" y="328" width="1" height="6" fill="#808080"/>
<rect x="494" y="329" width="3" height="3" fill="#808080"/>
<rect x="495" y="330" width="1" height="1" fill="#ee0000"/>
<rect x="497" y="329" width="1" height="5" fill="#808080"/>
<rect x="496" y="330" width="3" height="2" fill="#808080"/>
<rect x="499" y="327" width="1" height="5" fill="#808080"/>
<rect x="498" y="330" width="3" height="2" fill="#808080"/>
<rect x="501" y="330" width="1" height="3" fill="#808080"/>
<rect x="500" y="331" width="3" height="1" fill="#808080"/>
<rect x="503" y="330" width="1" height="5" fill="#808080"/>
<rect x="502" y="331" width="3" height="2" fill="#808080"/>
<rect x="505" y="331" width="1" height="4" fill="#808080"/>
<rect x="504" y="331" width="3" height="4" fill="#808080"/>
<rect x="507" y="331" width="1" height="5" fill="#808080"/>
<rect x="506" y="332" width="3" height="2" fill="#808080"/>
<rect x="509" y="330" width="1" height="6" fill="#808080"/>
<rect x="508" y="331" width="3" height="3" fill="#808080"/>
<rect x="511" y="331" width="1" height="3" fill="#808080"/>
<rect x="510" y="331" width="3" height="3" fill="#808080"/>
<rect x="513" y="331" width="1" height="3" fill="#808080"/>
<rect x="512" y="331" width="3" height="2" fill="#808080"/>
<rect x="515" y="330" width="1" height="4" fill="#808080"/>
<rect x="514" y="330" width="3" height="4" fill="#808080"/>
<rect x="517" y="328" width="1" height="6" fill="#808080"/>
<rect x="516" y="330" width="3" height="2" fill="#808080"/>
<rect x="519" y="329" width="1" height="3" fill="#808080"/>
<rect x="518" y="329" width="3" height="3" fill="#808080"/>
<rect x="521" y="328" width="1" height="2" fill="#808080"/>
<rect x="520" y="328" width="3" height="1" fill="#808080"/>
<rect x="518" y="329" width="1" height="4" fill="#808080"/>
<rect x="517" y="330" width="3" height="2" fill="#808080"/>
<rect x="521" y="327" width="1" height="4" fill="#808080"/>
<rect x="520" y="328" width="3" height="2" fill="#808080"/>
<rect x="524" y="300" width="1" height="2" fill="#808080"/>
<rect x="523" y="301" width="3" height="1" fill="#808080"/>
<rect x="526" y="318" width="1" height="6" fill="#808080"/>
<rect x="525" y="319" width="3" height="4" fill="#808080"/>
<rect x="528" y="333" width="1" height="2" fill="#808080"/>
<rect x="527" y="334" width="3" height="1" fill="#808080"/>
<rect x="531" y="336" width="1" height="2" fill="#808080"/>
<rect x="530" y="337" width="3" height="1" fill="#808080"/>
<rect x="533" y="308" width="1" height="2" fill="#808080"/>
<rect x="532" y="309" width="3" height="1" fill="#808080"/>
<rect x="534" y="321" width="1" height="6" fill="#808080"/>
<rect x="533" y="322" width="3" height="4" fill="#808080"/>
<rect x="537" y="197" width="1" height="2" fill="#808080"/>
<rect x="536" y="198" width="3" height="1" fill="#808080"/>
<rect x="540" y="188" width="1" height="11" fill="#808080"/>
<rect x="539" y="191" width="3" height="6" fill="#808080"/>
<rect x="540" y="192" width="1" height="4" fill="#33dd00"/>
<rect x="544" y="178" width="1" height="2" fill="#808080"/>
<rect x="543" y="179" width="3" height="1" fill="#808080"/>
<rect x="548" y="169" width="1" height="10" fill="#808080"/>
<rect x="547" y="171" width="3" height="6" fill="#808080"/>
<rect x="548" y="172" width="1" height="4" fill="#33dd00"/>
<rect x="552" y="160" width="1" height="1" fill="#808080"/>
<rect x="551" y="160" width="3" height="1" fill="#808080"/>
<rect x="554" y="141" width="1" height="1" fill="#808080"/>
<rect x="553" y="142" width="3" height="1" fill="#808080"/>
<rect x="556" y="146" width="1" height="1" fill="#808080"/>
<rect x="555" y="146" width="3" height="1" fill="#808080"/>
<rect x="559" y="150" width="1" height="10" fill="#808080"/>
<rect x="558" y="153" width="3" height="5" fill="#808080"/>
<rect x="559" y="154" width="1" height="3" fill="#ee0000"/>
<rect x="562" y="158" width="1" height="5" fill="#808080"/>
<rect x="561" y="159" width="3" height="4" fill="#808080"/>
<rect x="563" y="159" width="1" height="2" fill="#808080"/>
<rect x="562" y="160" width="3" height="1" fill="#808080"/>
<rect x="565" y="156" width="1" height="4" fill="#808080"/>
<rect x="564" y="158" width="3" height="1" fill="#808080"/>
<rect x="567" y="154" width="1" height="34" fill="#808080"/>
<rect x="566" y="161" width="3" height="5" fill="#808080"/>
<rect x="567" y="162" width="1" height="3" fill="#ee0000"/>
<rect x="570" y="153" width="1" height="2" fill="#808080"/>
<rect x="569" y="154" width="3" height="1" fill="#808080"/>
<rect x="572" y="153" width="1" height="2" fill="#808080"/>
<rect x="571" y="154" width="3" height="1" fill="#808080"/>
<rect x="574" y="150" width="1" height="8" fill="#808080"/>
<rect x="573" y="152" width="3" height="5" fill="#808080"/>
<rect x="574" y="153" width="1" height="3" fill="#33dd00"/>
<rect x="577" y="150" width="1" height="8" fill="#808080"/>
<rect x="576" y="152" width="3" height="4" fill="#808080"/>
<rect x="580" y="141" width="1" height="16" fill="#808080"/>
<rect x="579" y="152" width="3" height="4" fill="#808080"/>
<rect x="580" y="153" width="1" height="2" fill="#ee0000"/>
<rect x="583" y="152" width="1" height="4" fill="#808080"/>
<rect x="582" y="153" width="3" height="2" fill="#808080"/>
<rect x="584" y="160" width="1" height="4" fill="#808080"/>
<rect x="583" y="161" width="3" height="2" fill="#808080"/>
<rect x="587" y="160" width="1" height="4" fill="#808080"/>
<rect x="586" y="161" width="3" height="2" fill="#808080"/>
<rect x="588" y="161" width="1" height="2" fill="#808080"/>
<rect x="587" y="162" width="3" height="1" fill="#808080"/>
<rect x="591" y="159" width="1" height="2" fill="#808080"/>
<rect x="590" y="160" width="3" height="1" fill="#808080"/>
<rect x="594" y="160" width="1" height="1" fill="#808080"/>
<rect x="593" y="160" width="3" height="1" fill="#808080"/>
<rect x="596" y="160" width="1" height="1" fill="#808080"/>
<rect x="595" y="160" width="3" height="1" fill="#808080"/>
<rect x="598" y="161" width="1" height="2" fill="#808080"/>
<rect x="597" y="162" width="3" height="1" fill="#808080"/>
<rect x="601" y="164" width="1" height="15" fill="#808080"/>
<rect x="600" y="166" width="3" height="9" fill="#808080"/>
<rect x="601" y="167" width="1" height="7" fill="#ee0000"/>
<rect x="605" y="160" width="1" height="2" fill="#808080"/>
<rect x="604" y="161" width="3" height="1" fill="#808080"/>
<rect x="607" y="160" width="1" height="2" fill="#808080"/>
<rect x="606" y="161" width="3" height="1" fill="#808080"/>
<rect x="610" y="160" width="1" height="2" fill="#808080"/>
<rect x="609" y="161" width="3" height="1" fill="#808080"/>
<rect x="612" y="161" width="1" height="2" fill="#808080"/>
<rect x="611" y="162" width="3" height="1" fill="#808080"/>
<rect x="615" y="162" width="1" height="5" fill="#808080"/>
<rect x="614" y="163" width="3" height="3" fill="#808080"/>
<rect x="615" y="164" width="1" height="1" fill="#33dd00"/>
<rect x="618" y="161" width="1" height="5" fill="#808080"/>
<rect x="617" y="162" width="3" height="3" fill="#808080"/>
<rect x="620" y="162" width="1" height="8" fill="#808080"/>
<rect x="619" y="164" width="3" height="4" fill="#808080"/>
<rect x="620" y="165" width="1" height="2" fill="#ee0000"/>
<rect x="623" y="163" width="1" height="7" fill="#808080"/>
<rect x="622" y="164" width="3" height="4" fill="#808080"/>
<rect x="626" y="163" width="1" height="9" fill="#808080"/>
<rect x="625" y="166" width="3" height="4" fill="#808080"/>
<rect x="626" y="167" width="1" height="2" fill="#ee0000"/>
<rect x="629" y="162" width="1" height="5" fill="#808080"/>
<rect x="628" y="163" width="3" height="3" fill="#808080"/>
<rect x="632" y="160" width="1" height="5" fill="#808080"/>
<rect x="631" y="161" width="3" height="3" fill="#808080"/>
<rect x="632" y="162" width="1" height="1" fill="#33dd00"/>
<rect x="635" y="143" width="1" height="17" fill="#808080"/>
<rect x="634" y="148" width="3" height="4" fill="#808080"/>
<rect x="635" y="149" width="1" height="2" fill="#ee0000"/>
<rect x="638" y="154" width="1" height="11" fill="#808080"/>
<rect x="637" y="157" width="3" height="5" fill="#808080"/>
<rect x="638" y="158" width="1" height="3" fill="#ee0000"/>
<rect x="641" y="160" width="1" height="5" fill="#808080"/>
<rect x="640" y="161" width="3" height="3" fill="#808080"/>
<rect x="644" y="161" width="1" height="5" fill="#808080"/>
<rect x="643" y="162" width="3" height="3" fill="#808080"/>
<rect x="647" y="162" width="1" height="6" fill="#808080"/>
<rect x="646" y="163" width="3" height="4" fill="#808080"/>
<rect x="647" y="164" width="1" height="2" fill="#33dd00"/>
<rect x="650" y="162" width="1" height="14" fill="#808080"/>
<rect x="649" y="165" width="3" height="4" fill="#808080"/>
<rect x="650" y="166" width="1" height="2" fill="#ee0000"/>
<rect x="653" y="163" width="1" height="5" fill="#808080"/>
<rect x="652" y="164" width="3" height="3" fill="#808080"/>
<rect x="656" y="158" width="1" height="10" fill="#808080"/>
<rect x="655" y="161" width="3" height="4" fill="#808080"/>
<rect x="656" y="162" width="1" height="2" fill="#33dd00"/>
<rect x="658" y="160" width="1" height="10" fill="#808080"/>
<rect x="657" y="162" width="3" height="5" fill="#808080"/>
<rect x="660" y="160" width="1" height="15" fill="#808080"/>
<rect x="659" y="164" width="3" height="7" fill="#808080"/>
<rect x="660" y="165" width="1" height="5" fill="#ee0000"/>
<rect x="663" y="158" width="1" height="8" fill="#808080"/>
<rect x="662" y="160" width="3" height="4" fill="#808080"/>
<rect x="663" y="161" width="1" height="2" fill="#33dd00"/>
<rect x="666" y="160" width="1" height="6" fill="#808080"/>
<rect x="665" y="161" width="3" height="4" fill="#808080"/>
<rect x="669" y="162" width="1" height="6" fill="#808080"/>
<rect x="668" y="163" width="3" height="4" fill="#808080"/>
<rect x="672" y="162" width="1" height="10" fill="#808080"/>
<rect x="671" y="165" width="3" height="4" fill="#808080"/>
<rect x="672" y="166" width="1" height="2" fill="#33dd00"/>
<rect x="675" y="163" width="1" height="13" fill="#808080"/>
<rect x="674" y="167" width="3" height="4" fill="#808080"/>
<rect x="675" y="168" width="1" height="2" fill="#33dd00"/>
<rect x="678" y="126" width="1" height="64" fill="#808080"/>
<rect x="677" y="161" width="3" height="8" fill="#808080"/>
<rect x="680" y="150" width="1" height="22" fill="#808080"/>
<rect x="679" y="154" width="3" height="14" fill="#808080"/>
<rect x="680" y="155" width="1" height="12" fill="#33dd00"/>
<rect x="682" y="146" width="1" height="16" fill="#808080"/>
<rect x="681" y="149" width="3" height="10" fill="#808080"/>
<rect x="684" y="129" width="1" height="36" fill="#808080"/>
<rect x="683" y="142" width="3" height="16" fill="#808080"/>
<rect x="684" y="143" width="1" height="14" fill="#33dd00"/>
<rect x="686" y="138" width="1" height="24" fill="#808080"/>
<rect x="685" y="142" width="3" height="14" fill="#808080"/>
<rect x="686" y="143" width="1" height="12" fill="#ee0000"/>
<rect x="689" y="140" width="1" height="38" fill="#808080"/>
<rect x="688" y="162" width="3" height="13" fill="#808080"/>
<rect x="689" y="163" width="1" height="11" fill="#ee0000"/>
<rect x="692" y="158" width="1" height="21" fill="#808080"/>
<rect x="691" y="162" width="3" height="14" fill="#808080"/>
<rect x="692" y="163" width="1" height="12" fill="#ee0000"/>
<rect x="694" y="158" width="1" height="8" fill="#808080"/>
<rect x="693" y="160" width="3" height="4" fill="#808080"/>
<rect x="698" y="136" width="1" height="20" fill="#808080"/>
<rect x="697" y="140" width="3" height="12" fill="#808080"/>
<rect x="698" y="141" width="1" height="10" fill="#33dd00"/>
<rect x="700" y="137" width="1" height="15" fill="#808080"/>
<rect x="699" y="141" width="3" height="8" fill="#808080"/>
<rect x="703" y="142" width="1" height="14" fill="#808080"/>
<rect x="702" y="146" width="3" height="8" fill="#808080"/>
<rect x="703" y="147" width="1" height="6" fill="#ee0000"/>
<rect x="706" y="144" width="1" height="12" fill="#808080"/>
<rect x="705" y="147" width="3" height="6" fill="#808080"/>
<rect x="709" y="118" width="1" height="32" fill="#808080"/>
<rect x="708" y="120" width="3" height="15" fill="#808080"/>
<rect x="709" y="121" width="1" height="13" fill="#33dd00"/>
<rect x="712" y="108" width="1" height="23" fill="#808080"/>
<rect x="711" y="114" width="3" height="12" fill="#808080"/>
<rect x="715" y="109" width="1" height="27" fill="#808080"/>
<rect x="714" y="112" width="3" height="7" fill="#808080"/>
<rect x="715" y="113" width="1" height="5" fill="#ee0000"/>
<rect x="718" y="114" width="1" height="22" fill="#808080"/>
<rect x="717" y="120" width="3" height="12" fill="#808080"/>
<rect x="718" y="121" width="1" height="10" fill="#ee0000"/>
<rect x="720" y="119" width="1" height="22" fill="#808080"/>
<rect x="719" y="124" width="3" height="12" fill="#808080"/>
<rect x="723" y="117" width="1" height="14" fill="#808080"/>
<rect x="722" y="119" width="3" height="10" fill="#808080"/>
<rect x="723" y="120" width="1" height="8" fill="#33dd00"/>
<rect x="726" y="114" width="1" height="19" fill="#808080"/>
<rect x="725" y="117" width="3" height="12" fill="#808080"/>
<rect x="729" y="109" width="1" height="20" fill="#808080"/>
<rect x="728" y="121" width="3" height="6" fill="#808080"/>
<rect x="729" y="122" width="1" height="4" fill="#ee0000"/>
<rect x="732" y="107" width="1" height="19" fill="#808080"/>
<rect x="731" y="110" width="3" height="12" fill="#808080"/>
<rect x="732" y="111" width="1" height="10" fill="#33dd00"/>
<rect x="735" y="107" width="1" height="14" fill="#808080"/>
<rect x="734" y="110" width="3" height="8" fill="#808080"/>
<rect x="738" y="99" width="1" height="20" fill="#808080"/>
<rect x="737" y="103" width="3" height="12" fill="#808080"/>
<rect x="738" y="104" width="1" height="10" fill="#33dd00"/>
<rect x="741" y="99" width="1" height="14" fill="#808080"/>
<rect x="740" y="102" width="3" height="8" fill="#808080"/>
<rect x="744" y="97" width="1" height="14" fill="#808080"/>
<rect x="743" y="100" width="3" height="8" fill="#808080"/>
<rect x="744" y="101" width="1" height="6" fill="#33dd00"/>
<rect x="747" y="94" width="1" height="12" fill="#808080"/>
<rect x="746" y="97" width="3" height="6" fill="#808080"/>
<rect x="750" y="88" width="1" height="20" fill="#808080"/>
<rect x="749" y="99" width="3" height="7" fill="#808080"/>
<rect x="750" y="100" width="1" height="5" fill="#ee0000"/>
<rect x="752" y="96" width="1" height="13" fill="#808080"/>
<rect x="751" y="98" width="3" height="9" fill="#808080"/>
<rect x="752" y="99" width="1" height="7" fill="#33dd00"/>
<rect x="755" y="97" width="1" height="14" fill="#808080"/>
<rect x="754" y="99" width="3" height="10" fill="#808080"/>
<rect x="755" y="100" width="1" height="8" fill="#ee0000"/>
<rect x="757" y="99" width="1" height="14" fill="#808080"/>
<rect x="756" y="101" width="3" height="10" fill="#808080"/>
<rect x="760" y="101" width="1" height="10" fill="#808080"/>
<rect x="759" y="103" width="3" height="6" fill="#808080"/>
<rect x="763" y="99" width="1" height="10" fill="#808080"/>
<rect x="762" y="101" width="3" height="6" fill="#808080"/>
<rect x="763" y="102" width="1" height="4" fill="#33dd00"/>
<rect x="766" y="101" width="1" height="8" fill="#808080"/>
<rect x="765" y="103" width="3" height="4" fill="#808080"/>
<rect x="769" y="99" width="1" height="10" fill="#808080"/>
<rect x="768" y="101" width="3" height="6" fill="#808080"/>
<rect x="769" y="102" width="1" height="4" fill="#ee0000"/>
<rect x="772" y="99" width="1" height="12" fill="#808080"/>
<rect x="771" y="101" width="3" height="8" fill="#808080"/>
<rect x="774" y="104" width="1" height="12" fill="#808080"/>
<rect x="773" y="106" width="3" height="7" fill="#808080"/>
<rect x="774" y="107" width="1" height="5" fill="#ee0000"/>
<rect x="777" y="106" width="1" height="15" fill="#808080"/>
<rect x="776" y="108" width="3" height="4" fill="#808080"/>
<rect x="780" y="107" width="1" height="6" fill="#808080"/>
<rect x="779" y="108" width="3" height="4" fill="#808080"/>
<rect x="780" y="109" width="1" height="2" fill="#33dd00"/>
<rect x="782" y="105" width="1" height="8" fill="#808080"/>
<rect x="781" y="107" width="3" height="4" fill="#808080"/>
<rect x="784" y="90" width="1" height="21" fill="#808080"/>
<rect x="783" y="94" width="3" height="11" fill="#808080"/>
<rect x="784" y="95" width="1" height="9" fill="#33dd00"/>
<rect x="786" y="72" width="1" height="28" fill="#808080"/>
<rect x="785" y="82" width="3" height="14" fill="#808080"/>
<rect x="788" y="79" width="1" height="17" fill="#808080"/>
<rect x="787" y="82" width="3" height="12" fill="#808080"/>
<rect x="788" y="83" width="1" height="10" fill="#33dd00"/>
<rect x="790" y="71" width="1" height="15" fill="#808080"/>
<rect x="789" y="73" width="3" height="11" fill="#808080"/>
<rect x="790" y="74" width="1" height="9" fill="#ee0000"/>
<rect x="792" y="67" width="1" height="19" fill="#808080"/>
<rect x="791" y="70" width="3" height="12" fill="#808080"/>
<rect x="792" y="71" width="1" height="10" fill="#ee0000"/>
<rect x="794" y="69" width="1" height="14" fill="#808080"/>
<rect x="793" y="71" width="3" height="10" fill="#808080"/>
<rect x="796" y="67" width="1" height="14" fill="#808080"/>
<rect x="795" y="69" width="3" height="8" fill="#808080"/>
<rect x="796" y="70" width="1" height="6" fill="#ee0000"/>
<rect x="799" y="71" width="1" height="10" fill="#808080"/>
<rect x="798" y="73" width="3" height="6" fill="#808080"/>
<rect x="801" y="74" width="1" height="9" fill="#808080"/>
<rect x="800" y="76" width="3" height="5" fill="#808080"/>
<rect x="801" y="77" width="1" height="3" fill="#33dd00"/>
<rect x="803" y="71" width="1" height="12" fill="#808080"/>
<rect x="802" y="73" width="3" height="8" fill="#808080"/>
<rect x="806" y="69" width="1" height="10" fill="#808080"/>
<rect x="805" y="71" width="3" height="6" fill="#808080"/>
<rect x="808" y="59" width="1" height="17" fill="#808080"/>
<rect x="807" y="66" width="3" height="4" fill="#808080"/>
<rect x="808" y="67" width="1" height="2" fill="#33dd00"/>
<rect x="810" y="59" width="1" height="10" fill="#808080"/>
<rect x="809" y="61" width="3" height="6" fill="#808080"/>
<rect x="812" y="56" width="1" height="10" fill="#808080"/>
<rect x="811" y="58" width="3" height="6" fill="#808080"/>
<rect x="815" y="59" width="1" height="12" fill="#808080"/>
<rect x="814" y="61" width="3" height="8" fill="#808080"/>
<rect x="815" y="62" width="1" height="6" fill="#ee0000"/>
<rect x="817" y="64" width="1" height="9" fill="#808080"/>
<rect x="816" y="66" width="3" height="5" fill="#808080"/>
<rect x="819" y="67" width="1" height="6" fill="#808080"/>
<rect x="818" y="68" width="3" height="4" fill="#808080"/>
<rect x="822" y="67" width="1" height="6" fill="#808080"/>
<rect x="821" y="68" width="3" height="4" fill="#808080"/>
<rect x="822" y="69" width="1" height="2" fill="#ee0000"/>
<rect x="825" y="69" width="1" height="6" fill="#808080"/>
<rect x="824" y="70" width="3" height="4" fill="#808080"/>
<rect x="828" y="69" width="1" height="10" fill="#808080"/>
<rect x="827" y="71" width="3" height="6" fill="#808080"/>
<rect x="828" y="72" width="1" height="4" fill="#ee0000"/>
<rect x="830" y="71" width="1" height="10" fill="#808080"/>
<rect x="829" y="73" width="3" height="6" fill="#808080"/>
<rect x="832" y="74" width="1" height="9" fill="#808080"/>
<rect x="831" y="76" width="3" height="5" fill="#808080"/>
<rect x="832" y="77" width="1" height="3" fill="#33dd00"/>
<rect x="834" y="77" width="1" height="9" fill="#808080"/>
<rect x="833" y="79" width="3" height="5" fill="#808080"/>
<rect x="837" y="77" width="1" height="10" fill="#808080"/>
<rect x="836" y="79" width="3" height="6" fill="#808080"/>
<rect x="837" y="80" width="1" height="4" fill="#ee0000"/>
<rect x="839" y="79" width="1" height="9" fill="#808080"/>
<rect x="838" y="81" width="3" height="5" fill="#808080"/>
<rect x="841" y="81" width="1" height="8" fill="#808080"/>
<rect x="840" y="83" width="3" height="4" fill="#808080"/>
<rect x="843" y="79" width="1" height="8" fill="#808080"/>
<rect x="842" y="81" width="3" height="4" fill="#808080"/>
<rect x="843" y="82" width="1" height="2" fill="#33dd00"/>
<rect x="845" y="79" width="1" height="8" fill="#808080"/>
<rect x="844" y="81" width="3" height="4" fill="#808080"/>
<rect x="847" y="81" width="1" height="8" fill="#808080"/>
<rect x="846" y="83" width="3" height="4" fill="#808080"/>
<rect x="847" y="84" width="1" height="2" fill="#ee0000"/>
<rect x="850" y="77" width="1" height="9" fill="#808080"/>
<rect x="849" y="79" width="3" height="5" fill="#808080"/>
<rect x="852" y="77" width="1" height="8" fill="#808080"/>
<rect x="851" y="79" width="3" height="4" fill="#808080"/>
<rect x="854" y="75" width="1" height="8" fill="#808080"/>
<rect x="853" y="77" width="3" height="4" fill="#808080"/>
<rect x="854" y="78" width="1" height="2" fill="#33dd00"/>
<rect x="856" y="77" width="1" height="9" fill="#808080"/>
<rect x="855" y="79" width="3" height="5" fill="#808080"/>
<rect x="858" y="79" width="1" height="10" fill="#808080"/>
<rect x="857" y="81" width="3" height="6" fill="#808080"/>
<rect x="858" y="82" width="1" height="4" fill="#ee0000"/>
<rect x="860" y="81" width="1" height="10" fill="#808080"/>
<rect x="859" y="83" width="3" height="6" fill="#808080"/>
<rect x="862" y="79" width="1" height="12" fill="#808080"/>
<rect x="861" y="81" width="3" height="8" fill="#808080"/>
<rect x="862" y="82" width="1" height="6" fill="#33dd00"/>
<rect x="865" y="81" width="1" height="8" fill="#808080"/>
<rect x="864" y="83" width="3" height="4" fill="#808080"/>
<rect x="867" y="81" width="1" height="12" fill="#808080"/>
<rect x="866" y="83" width="3" height="8" fill="#808080"/>
<rect x="867" y="84" width="1" height="6" fill="#ee0000"/>
<rect x="869" y="87" width="1" height="20" fill="#808080"/>
<rect x="868" y="91" width="3" height="12" fill="#808080"/>
<rect x="869" y="92" width="1" height="10" fill="#ee0000"/>
<rect x="872" y="91" width="1" height="18" fill="#808080"/>
<rect x="871" y="98" width="3" height="8" fill="#808080"/>
<rect x="872" y="99" width="1" height="6" fill="#33dd00"/>
<rect x="874" y="94" width="1" height="7" fill="#808080"/>
<rect x="873" y="96" width="3" height="4" fill="#808080"/>
<rect x="876" y="94" width="1" height="9" fill="#808080"/>
<rect x="875" y="96" width="3" height="5" fill="#808080"/>
<rect x="878" y="94" width="1" height="9" fill="#808080"/>
<rect x="877" y="96" width="3" height="5" fill="#808080"/>
<rect x="878" y="97" width="1" height="3" fill="#33dd00"/>
<rect x="880" y="94" width="1" height="12" fill="#808080"/>
<rect x="879" y="96" width="3" height="8" fill="#808080"/>
<rect x="883" y="97" width="1" height="9" fill="#808080"/>
<rect x="882" y="99" width="3" height="5" fill="#808080"/>
<rect x="883" y="100" width="1" height="3" fill="#ee0000"/>
<rect x="885" y="99" width="1" height="8" fill="#808080"/>
<rect x="884" y="101" width="3" height="4" fill="#808080"/>
<rect x="887" y="101" width="1" height="8" fill="#808080"/>
<rect x="886" y="103" width="3" height="4" fill="#808080"/>
<rect x="890" y="104" width="1" height="9" fill="#808080"/>
<rect x="889" y="106" width="3" height="5" fill="#808080"/>
<rect x="890" y="107" width="1" height="3" fill="#ee0000"/>
<rect x="892" y="107" width="1" height="6" fill="#808080"/>
<rect x="891" y="108" width="3" height="4" fill="#808080"/>
<rect x="894" y="107" width="1" height="6" fill="#808080"/>
<rect x="893" y="108" width="3" height="4" fill="#808080"/>
<rect x="896" y="107" width="1" height="6" fill="#808080"/>
<rect x="895" y="108" width="3" height="4" fill="#808080"/>
<rect x="896" y="109" width="1" height="2" fill="#ee0000"/>
<rect x="899" y="104" width="1" height="7" fill="#808080"/>
<rect x="898" y="106" width="3" height="4" fill="#808080"/>
<rect x="901" y="101" width="1" height="10" fill="#808080"/>
<rect x="900" y="103" width="3" height="6" fill="#808080"/>
<rect x="901" y="104" width="1" height="4" fill="#33dd00"/>
<rect x="903" y="101" width="1" height="8" fill="#808080"/>
<rect x="902" y="103" width="3" height="4" fill="#808080"/>
<rect x="906" y="102" width="1" height="6" fill="#808080"/>
<rect x="905" y="103" width="3" height="4" fill="#808080"/>
<rect x="906" y="106" width="1" height="7" fill="#808080"/>
<rect x="905" y="108" width="3" height="4" fill="#808080"/>
<rect x="906" y="109" width="1" height="2" fill="#ee0000"/>
<rect x="908" y="109" width="1" height="9" fill="#808080"/>
<rect x="907" y="113" width="3" height="3" fill="#808080"/>
<rect x="908" y="114" width="1" height="1" fill="#ee0000"/>
<rect x="910" y="110" width="1" height="24" fill="#808080"/>
<rect x="909" y="120" width="3" height="12" fill="#808080"/>
<rect x="910" y="121" width="1" height="10" fill="#ee0000"/>
<rect x="912" y="118" width="1" height="15" fill="#808080"/>
<rect x="911" y="120" width="3" height="11" fill="#808080"/>
<rect x="912" y="121" width="1" height="9" fill="#33dd00"/>
<rect x="914" y="118" width="1" height="9" fill="#808080"/>
<rect x="913" y="121" width="3" height="4" fill="#808080"/>
<rect x="914" y="122" width="1" height="2" fill="#ee0000"/>
<rect x="916" y="116" width="1" height="10" fill="#808080"/>
<rect x="915" y="118" width="3" height="4" fill="#808080"/>
<rect x="916" y="119" width="1" height="2" fill="#33dd00"/>
<rect x="918" y="116" width="1" height="6" fill="#808080"/>
<rect x="917" y="118" width="3" height="2" fill="#808080"/>
<rect x="920" y="117" width="1" height="4" fill="#808080"/>
<rect x="919" y="119" width="3" height="1" fill="#808080"/>
<rect x="922" y="118" width="1" height="6" fill="#808080"/>
<rect x="921" y="119" width="3" height="4" fill="#808080"/>
<rect x="924" y="120" width="1" height="6" fill="#808080"/>
<rect x="923" y="121" width="3" height="4" fill="#808080"/>
<rect x="927" y="123" width="1" height="4" fill="#808080"/>
<rect x="926" y="124" width="3" height="2" fill="#808080"/>
<rect x="930" y="122" width="1" height="6" fill="#808080"/>
<rect x="929" y="123" width="3" height="2" fill="#808080"/>
<rect x="932" y="123" width="1" height="6" fill="#808080"/>
<rect x="931" y="124" width="3" height="2" fill="#808080"/>
<rect x="934" y="126" width="1" height="3" fill="#808080"/>
<rect x="933" y="128" width="3" height="1" fill="#808080"/>
<rect x="935" y="127" width="1" height="4" fill="#808080"/>
<rect x="934" y="128" width="3" height="2" fill="#808080"/>
<rect x="937" y="128" width="1" height="3" fill="#808080"/>
<rect x="936" y="129" width="3" height="1" fill="#808080"/>
<rect x="939" y="129" width="1" height="3" fill="#808080"/>
<rect x="938" y="130" width="3" height="1" fill="#808080"/>
<rect x="942" y="131" width="1" height="2" fill="#808080"/>
<rect x="941" y="131" width="3" height="2" fill="#808080"/>
<rect x="944" y="132" width="1" height="8" fill="#808080"/>
<rect x="943" y="134" width="3" height="3" fill="#808080"/>
<rect x="944" y="135" width="1" height="1" fill="#ee0000"/>
<rect x="946" y="134" width="1" height="6" fill="#808080"/>
<rect x="945" y="135" width="3" height="4" fill="#808080"/>
<rect x="948" y="135" width="1" height="6" fill="#808080"/>
<rect x="947" y="136" width="3" height="4" fill="#808080"/>
<rect x="950" y="129" width="1" height="12" fill="#808080"/>
<rect x="949" y="132" width="3" height="5" fill="#808080"/>
<rect x="950" y="133" width="1" height="3" fill="#33dd00"/>
<rect x="952" y="130" width="1" height="2" fill="#808080"/>
<rect x="951" y="131" width="3" height="1" fill="#808080"/>
<rect x="954" y="132" width="1" height="1" fill="#808080"/>
<rect x="953" y="132" width="3" height="1" fill="#808080"/>
<rect x="956" y="130" width="1" height="5" fill="#808080"/>
<rect x="955" y="133" width="3" height="1" fill="#808080"/>
<rect x="958" y="131" width="1" height="5" fill="#808080"/>
<rect x="957" y="133" width="3" height="2" fill="#808080"/>
<rect x="960" y="130" width="1" height="3" fill="#808080"/>
<rect x="959" y="132" width="3" height="1" fill="#808080"/>
<rect x="962" y="130" width="1" height="2" fill="#808080"/>
<rect x="961" y="131" width="3" height="1" fill="#808080"/>
<rect x="964" y="130" width="1" height="6" fill="#808080"/>
<rect x="963" y="132" width="3" height="4" fill="#808080"/>
<rect x="964" y="133" width="1" height="2" fill="#ee0000"/>
<rect x="966" y="132" width="1" height="1" fill="#808080"/>
<rect x="965" y="133" width="3" height="1" fill="#808080"/>
<rect x="969" y="131" width="1" height="2" fill="#808080"/>
<rect x="968" y="132" width="3" height="1" fill="#808080"/>
<rect x="971" y="130" width="1" height="4" fill="#808080"/>
<rect x="970" y="131" width="3" height="2" fill="#808080"/>
<rect x="973" y="131" width="1" height="2" fill="#808080"/>
<rect x="972" y="132" width="3" height="1" fill="#808080"/>
<rect x="975" y="131" width="1" height="1" fill="#808080"/>
<rect x="974" y="132" width="3" height="1" fill="#808080"/>
<rect x="977" y="131" width="1" height="2" fill="#808080"/>
<rect x="976" y="132" width="3" height="1" fill="#808080"/>
<rect x="979" y="132" width="1" height="1" fill="#808080"/>
<rect x="978" y="133" width="3" height="1" fill="#808080"/>
<rect x="981" y="133" width="1" height="3" fill="#808080"/>
<rect x="980" y="134" width="3" height="1" fill="#808080"/>
<rect x="983" y="134" width="1" height="17" fill="#808080"/>
<rect x="982" y="137" width="3" height="7" fill="#808080"/>
<rect x="983" y="138" width="1" height="5" fill="#ee0000"/>
<rect x="985" y="136" width="1" height="8" fill="#808080"/>
<rect x="984" y="138" width="3" height="4" fill="#808080"/>
<rect x="987" y="136" width="1" height="5" fill="#808080"/>
<rect x="986" y="137" width="3" height="3" fill="#808080"/>
<rect x="989" y="138" width="1" height="2" fill="#808080"/>
<rect x="988" y="139" width="3" height="1" fill="#808080"/>
<rect x="991" y="138" width="1" height="4" fill="#808080"/>
<rect x="990" y="139" width="3" height="2" fill="#808080"/>
</g>
<clipPath id="lc"><rect x="0" y="0" width="521" height="438"/></clipPath>
<g shape-rendering="crispEdges" clip-path="url(#lc)">
<polyline points="0.5,317.5 3.5,317.5 5.5,317.5 8.5,317.5 11.5,318.5 14.5,318.5 16.5,318.5 19.5,318.5 22.5,318.5 24.5,318.5 27.5,318.5 30.5,318.5 32.5,318.5 35.5,318.5 38.5,318.5 41.5,319.5 43.5,319.5 46.5,319.5 49.5,319.5 51.5,319.5 54.5,319.5 57.5,319.5 59.5,319.5 62.5,319.5 65.5,319.5 68.5,319.5 70.5,318.5 73.5,318.5 76.5,318.5 78.5,318.5 81.5,318.5 84.5,318.5 86.5,318.5 89.5,318.5 92.5,318.5 95.5,318.5 97.5,318.5 100.5,318.5 103.5,318.5 105.5,318.5 108.5,318.5 111.5,318.5 113.5,318.5 116.5,318.5 119.5,318.5 122.5,318.5 124.5,319.5 127.5,319.5 130.5,319.5 132.5,319.5 135.5,319.5 138.5,319.5 140.5,319.5 143.5,319.5 146.5,319.5 148.5,319.5 151.5,319.5 154.5,319.5 157.5,319.5 159.5,319.5 162.5,319.5 165.5,319.5 167.5,319.5 170.5,320.5 173.5,320.5 175.5,320.5 178.5,320.5 181.5,321.5 184.5,321.5 186.5,321.5 189.5,321.5 192.5,322.5 194.5,322.5 197.5,322.5 200.5,322.5 202.5,322.5 205.5,322.5 208.5,322.5 211.5,323.5 213.5,323.5 216.5,323.5 219.5,323.5 221.5,323.5 224.5,323.5 227.5,323.5 229.5,323.5 232.5,323.5 235.5,323.5 238.5,323.5 240.5,323.5 243.5,323.5 246.5,323.5 248.5,323.5 251.5,323.5 254.5,323.5 256.5,324.5 259.5,324.5 262.5,324.5 265.5,324.5 267.5,324.5 270.5,324.5 273.5,324.5 275.5,324.5 278.5,324.5 281.5,324.5 283.5,324.5 286.5,324.5 289.5,324.5 292.5,324.5 294.5,324.5 297.5,323.5 300.5,323.5 302.5,323.5 305.5,323.5 308.5,323.5 310.5,323.5 313.5,323.5 316.5,323.5 319.5,323.5 321.5,323.5 324.5,323.5 327.5,322.5 329.5,322.5 332.5,322.5 335.5,322.5 337.5,322.5 340.5,322.5 343.5,322.5 346.5,322.5 348.5,322.5 351.5,322.5 354.5,321.5 356.5,321.5 359.5,321.5 362.5,321.5 364.5,321.5 367.5,321.5 370.5,321.5 373.5,321.5 375.5,320.5 378.5,320.5 381.5,320.5 383.5,320.5 386.5,320.5 389.5,320.5 391.5,320.5 394.5,320.5 397.5,320.5 400.5,320.5 402.5,320.5 405.5,320.5 408.5,320.5 410.5,320.5 413.5,320.5 416.5,320.5 418.5,320.5 421.5,320.5 424.5,320.5 427.5,320.5 429.5,320.5 432.5,321.5 435.5,321.5 437.5,321.5 440.5,321.5 443.5,321.5 445.5,321.5 448.5,321.5 451.5,321.5 454.5,322.5 456.5,322.5 459.5,322.5 462.5,322.5 464.5,322.5 467.5,322.5 470.5,322.5 472.5,322.5 475.5,322.5 478.5,323.5 481.5,323.5 483.5,323.5 486.5,323.5 489.5,323.5 491.5,323.5 494.5,323.5 497.5,323.5 499.5,324.5 502.5,324.5 505.5,324.5 508.5,324.5 510.5,324.5 513.5,324.5 516.5,324.5 518.5,324.5 521.5,325.5 524.5,325.5 526.5,324.5 529.5,324.5 530.5,325.5 537.5,323.5 549.5,306.5 562.5,287.5 579.5,268.5 588.5,260.5 597.5,252.5 606.5,243.5 614.5,236.5 623.5,231.5 631.5,227.5 640.5,222.5 648.5,218.5 657.5,214.5 665.5,209.5 675.5,206.5 686.5,201.5 700.5,196.5 712.5,190.5 729.5,179.5 748.5,167.5 763.5,157.5 776.5,152.5 784.5,148.5 795.5,141.5 800.5,139.5 810.5,133.5 815.5,130.5 828.5,123.5 834.5,120.5 841.5,117.5 849.5,114.5 856.5,112.5 864.5,111.5 872.5,110.5 879.5,109.5 887.5,109.5 895.5,109.5 904.5,109.5 914.5,110.5 925.5,112.5 935.5,113.5 946.5,115.5 956.5,117.5 966.5,118.5 977.5,120.5 990.5,121.5" fill="none" stroke="#0000ff" stroke-width="1"/>
<polyline points="0.5,321.5 3.5,321.5 5.5,321.5 8.5,321.5 11.5,322.5 14.5,322.5 16.5,322.5 19.5,322.5 22.5,322.5 24.5,322.5 27.5,322.5 30.5,322.5 32.5,322.5 35.5,322.5 38.5,322.5 41.5,322.5 43.5,322.5 46.5,322.5 49.5,322.5 51.5,322.5 54.5,322.5 57.5,322.5 59.5,322.5 62.5,321.5 65.5,321.5 68.5,321.5 70.5,321.5 73.5,320.5 76.5,320.5 78.5,320.5 81.5,319.5 84.5,319.5 86.5,319.5 89.5,318.5 92.5,318.5 95.5,318.5 97.5,318.5 100.5,318.5 103.5,319.5 105.5,319.5 108.5,319.5 111.5,319.5 113.5,319.5 116.5,319.5 119.5,320.5 122.5,320.5 124.5,320.5 127.5,320.5 130.5,320.5 132.5,320.5 135.5,320.5 138.5,320.5 140.5,320.5 143.5,320.5 146.5,320.5 148.5,320.5 151.5,320.5 154.5,320.5 157.5,320.5 159.5,320.5 162.5,321.5 165.5,321.5 167.5,321.5 170.5,322.5 173.5,322.5 175.5,323.5 178.5,323.5 181.5,323.5 184.5,324.5 186.5,324.5 189.5,325.5 192.5,325.5 194.5,326.5 197.5,326.5 200.5,326.5 202.5,326.5 205.5,327.5 208.5,327.5 211.5,327.5 213.5,327.5 216.5,327.5 219.5,326.5 221.5,326.5 224.5,326.5 227.5,326.5 229.5,326.5 232.5,326.5 235.5,326.5 238.5,326.5 240.5,326.5 243.5,326.5 246.5,326.5 248.5,326.5 251.5,326.5 254.5,327.5 256.5,327.5 259.5,327.5 262.5,327.5 265.5,327.5 267.5,327.5 270.5,327.5 273.5,327.5 275.5,327.5 278.5,327.5 281.5,327.5 283.5,326.5 286.5,326.5 289.5,326.5 292.5,325.5 294.5,325.5 297.5,325.5 300.5,325.5 302.5,324.5 305.5,324.5 308.5,324.5 310.5,324.5 313.5,324.5 316.5,323.5 319.5,323.5 321.5,323.5 324.5,323.5 327.5,322.5 329.5,322.5 332.5,322.5 335.5,321.5 337.5,321.5 340.5,321.5 343.5,321.5 346.5,321.5 348.5,320.5 351.5,320.5 354.5,320.5 356.5,320.5 359.5,320.5 362.5,320.5 364.5,319.5 367.5,319.5 370.5,319.5 373.5,319.5 375.5,318.5 378.5,318.5 381.5,318.5 383.5,318.5 386.5,318.5 389.5,317.5 391.5,317.5 394.5,317.5 397.5,317.5 400.5,318.5 402.5,318.5 405.5,318.5 408.5,318.5 410.5,318.5 413.5,318.5 416.5,319.5 418.5,319.5 421.5,319.5 424.5,319.5 427.5,320.5 429.5,320.5 432.5,320.5 435.5,320.5 437.5,321.5 440.5,321.5 443.5,321.5 445.5,322.5 448.5,322.5 451.5,322.5 454.5,322.5 456.5,323.5 459.5,323.5 462.5,323.5 464.5,323.5 467.5,324.5 470.5,324.5 472.5,324.5 475.5,324.5 478.5,324.5 481.5,325.5 483.5,325.5 486.5,325.5 489.5,325.5 491.5,325.5 494.5,326.5 497.5,326.5 499.5,326.5 502.5,326.5 505.5,326.5 508.5,327.5 510.5,327.5 513.5,327.5 516.5,327.5 518.5,327.5 521.5,327.5 524.5,327.5 526.5,327.5 529.5,327.5 530.5,328.5 535.5,323.5 546.5,297.5 552.5,278.5 561.5,259.5 572.5,240.5 580.5,230.5 588.5,219.5 597.5,210.5 606.5,203.5 614.5,197.5 623.5,192.5 631.5,189.5 640.5,184.5 648.5,182.5 657.5,179.5 665.5,178.5 674.5,176.5 682.5,173.5 691.5,171.5 700.5,167.5 710.5,161.5 719.5,155.5 729.5,151.5 738.5,146.5 748.5,139.5 755.5,134.5 763.5,130.5 771.5,127.5 781.5,124.5 790.5,115.5 800.5,108.5 809.5,102.5 818.5,96.5 826.5,93.5 834.5,91.5 841.5,90.5 849.5,89.5 856.5,88.5 864.5,87.5 872.5,89.5 879.5,90.5 887.5,92.5 894.5,95.5 906.5,98.5 911.5,100.5 925.5,105.5 935.5,108.5 946.5,114.5 956.5,117.5 966.5,119.5 977.5,122.5 990.5,127.5" fill="none" stroke="#ffff00" stroke-width="1"/>
<polyline points="0.5,322.5 3.5,322.5 5.5,322.5 8.5,323.5 11.5,323.5 14.5,323.5 16.5,323.5 19.5,323.5 22.5,323.5 24.5,323.5 27.5,323.5 30.5,323.5 32.5,323.5 35.5,323.5 38.5,323.5 41.5,323.5 43.5,323.5 46.5,323.5 49.5,323.5 51.5,323.5 54.5,323.5 57.5,322.5 59.5,322.5 62.5,321.5 65.5,320.5 68.5,320.5 70.5,319.5 73.5,319.5 76.5,318.5 78.5,318.5 81.5,317.5 84.5,317.5 86.5,316.5 89.5,316.5 92.5,316.5 95.5,316.5 97.5,316.5 100.5,317.5 103.5,317.5 105.5,317.5 108.5,318.5 111.5,318.5 113.5,319.5 116.5,319.5 119.5,320.5 122.5,320.5 124.5,321.5 127.5,321.5 130.5,321.5 132.5,321.5 135.5,321.5 138.5,321.5 140.5,321.5 143.5,320.5 146.5,320.5 148.5,320.5 151.5,320.5 154.5,320.5 157.5,320.5 159.5,321.5 162.5,321.5 165.5,322.5 167.5,323.5 170.5,324.5 173.5,324.5 175.5,325.5 178.5,326.5 181.5,327.5 184.5,327.5 186.5,328.5 189.5,329.5 192.5,329.5 194.5,330.5 197.5,330.5 200.5,330.5 202.5,330.5 205.5,330.5 208.5,330.5 211.5,330.5 213.5,330.5 216.5,329.5 219.5,329.5 221.5,328.5 224.5,328.5 227.5,328.5 229.5,327.5 232.5,327.5 235.5,327.5 238.5,327.5 240.5,327.5 243.5,327.5 246.5,327.5 248.5,327.5 251.5,327.5 254.5,328.5 256.5,328.5 259.5,328.5 262.5,328.5 265.5,328.5 267.5,328.5 270.5,328.5 273.5,328.5 275.5,328.5 278.5,327.5 281.5,327.5 283.5,326.5 286.5,326.5 289.5,325.5 292.5,324.5 294.5,324.5 297.5,323.5 300.5,323.5 302.5,322.5 305.5,322.5 308.5,322.5 310.5,322.5 313.5,321.5 316.5,321.5 319.5,321.5 321.5,320.5 324.5,320.5 327.5,319.5 329.5,319.5 332.5,318.5 335.5,318.5 337.5,318.5 340.5,317.5 343.5,317.5 346.5,318.5 348.5,318.5 351.5,318.5 354.5,317.5 356.5,317.5 359.5,317.5 362.5,317.5 364.5,317.5 367.5,316.5 370.5,316.5 373.5,316.5 375.5,315.5 378.5,315.5 381.5,315.5 383.5,315.5 386.5,315.5 389.5,315.5 391.5,315.5 394.5,315.5 397.5,315.5 400.5,316.5 402.5,316.5 405.5,317.5 408.5,317.5 410.5,318.5 413.5,318.5 416.5,319.5 418.5,319.5 421.5,320.5 424.5,320.5 427.5,321.5 429.5,321.5 432.5,322.5 435.5,322.5 437.5,323.5 440.5,323.5 443.5,323.5 445.5,324.5 448.5,324.5 451.5,325.5 454.5,325.5 456.5,326.5 459.5,326.5 462.5,326.5 464.5,326.5 467.5,326.5 470.5,327.5 472.5,327.5 475.5,327.5 478.5,327.5 481.5,328.5 483.5,328.5 486.5,328.5 489.5,328.5 491.5,328.5 494.5,328.5 497.5,329.5 499.5,329.5 502.5,329.5 505.5,329.5 508.5,330.5 510.5,330.5 513.5,330.5 516.5,330.5 518.5,330.5 521.5,330.5 524.5,330.5 526.5,329.5 529.5,328.5 530.5,327.5 535.5,320.5 540.5,305.5 546.5,289.5 552.5,257.5 559.5,224.5 565.5,199.5 575.5,179.5 588.5,170.5 604.5,166.5 620.5,164.5 630.5,164.5 640.5,163.5 650.5,164.5 660.5,166.5 672.5,170.5 682.5,162.5 691.5,160.5 700.5,157.5 710.5,151.5 719.5,142.5 729.5,136.5 738.5,128.5 748.5,120.5 756.5,114.5 763.5,111.5 771.5,109.5 778.5,109.5 784.5,107.5 790.5,98.5 796.5,92.5 804.5,88.5 812.5,80.5 819.5,76.5 826.5,75.5 834.5,76.5 841.5,77.5 849.5,80.5 856.5,81.5 865.5,83.5 872.5,86.5 879.5,90.5 887.5,93.5 894.5,97.5 904.5,102.5 909.5,107.5 914.5,110.5 920.5,112.5 925.5,115.5 930.5,118.5 935.5,120.5 940.5,122.5 946.5,126.5 949.5,127.5 956.5,128.5 966.5,130.5 977.5,131.5 983.5,133.5 990.5,134.5" fill="none" stroke="#00ff00" stroke-width="1"/>
<polyline points="0.5,323.5 3.5,323.5 5.5,323.5 8.5,323.5 11.5,323.5 14.5,323.5 16.5,324.5 19.5,324.5 22.5,324.5 24.5,324.5 27.5,324.5 30.5,324.5 32.5,324.5 35.5,324.5 38.5,324.5 41.5,324.5 43.5,324.5 46.5,324.5 49.5,324.5 51.5,323.5 54.5,323.5 57.5,322.5 59.5,321.5 62.5,320.5 65.5,319.5 68.5,318.5 70.5,318.5 73.5,317.5 76.5,316.5 78.5,316.5 81.5,315.5 84.5,315.5 86.5,314.5 89.5,314.5 92.5,314.5 95.5,315.5 97.5,315.5 100.5,316.5 103.5,317.5 105.5,317.5 108.5,318.5 111.5,319.5 113.5,320.5 116.5,320.5 119.5,321.5 122.5,321.5 124.5,322.5 127.5,322.5 130.5,322.5 132.5,322.5 135.5,322.5 138.5,322.5 140.5,321.5 143.5,321.5 146.5,320.5 148.5,320.5 151.5,320.5 154.5,320.5 157.5,320.5 159.5,321.5 162.5,322.5 165.5,323.5 167.5,324.5 170.5,325.5 173.5,326.5 175.5,327.5 178.5,328.5 181.5,329.5 184.5,329.5 186.5,330.5 189.5,331.5 192.5,332.5 194.5,332.5 197.5,332.5 200.5,332.5 202.5,332.5 205.5,332.5 208.5,331.5 211.5,331.5 213.5,330.5 216.5,330.5 219.5,329.5 221.5,328.5 224.5,328.5 227.5,327.5 229.5,327.5 232.5,327.5 235.5,326.5 238.5,326.5 240.5,326.5 243.5,327.5 246.5,327.5 248.5,327.5 251.5,327.5 254.5,328.5 256.5,328.5 259.5,328.5 262.5,328.5 265.5,328.5 267.5,328.5 270.5,329.5 273.5,329.5 275.5,328.5 278.5,327.5 281.5,326.5 283.5,325.5 286.5,325.5 289.5,324.5 292.5,323.5 294.5,322.5 297.5,322.5 300.5,321.5 302.5,321.5 305.5,321.5 308.5,320.5 310.5,320.5 313.5,320.5 316.5,320.5 319.5,320.5 321.5,319.5 324.5,319.5 327.5,318.5 329.5,317.5 332.5,317.5 335.5,316.5 337.5,316.5 340.5,316.5 343.5,316.5 346.5,316.5 348.5,317.5 351.5,317.5 354.5,317.5 356.5,317.5 359.5,317.5 362.5,316.5 364.5,316.5 367.5,316.5 370.5,315.5 373.5,315.5 375.5,314.5 378.5,314.5 381.5,314.5 383.5,314.5 386.5,314.5 389.5,314.5 391.5,314.5 394.5,315.5 397.5,315.5 400.5,316.5 402.5,316.5 405.5,317.5 408.5,318.5 410.5,319.5 413.5,319.5 416.5,320.5 418.5,320.5 421.5,321.5 424.5,322.5 427.5,322.5 429.5,323.5 432.5,323.5 435.5,324.5 437.5,324.5 440.5,325.5 443.5,325.5 445.5,326.5 448.5,326.5 451.5,327.5 454.5,327.5 456.5,327.5 459.5,328.5 462.5,328.5 464.5,328.5 467.5,328.5 470.5,328.5 472.5,328.5 475.5,328.5 478.5,328.5 481.5,329.5 483.5,329.5 486.5,329.5 489.5,329.5 491.5,329.5 494.5,329.5 497.5,329.5 499.5,330.5 502.5,330.5 505.5,330.5 508.5,331.5 510.5,331.5 513.5,331.5 516.5,331.5 518.5,331.5 521.5,331.5 524.5,330.5 526.5,328.5 529.5,328.5 530.5,327.5 535.5,318.5 538.5,305.5 543.5,289.5 548.5,257.5 552.5,224.5 559.5,192.5 567.5,173.5 578.5,163.5 588.5,160.5 600.5,163.5 610.5,164.5 620.5,164.5 630.5,165.5 640.5,163.5 650.5,163.5 660.5,165.5 672.5,168.5 682.5,160.5 691.5,157.5 700.5,155.5 710.5,147.5 716.5,137.5 723.5,134.5 729.5,131.5 738.5,120.5 748.5,114.5 756.5,110.5 763.5,108.5 772.5,106.5 781.5,108.5 786.5,104.5 794.5,89.5 801.5,83.5 809.5,77.5 815.5,72.5 821.5,70.5 826.5,72.5 834.5,74.5 841.5,78.5 849.5,80.5 856.5,81.5 864.5,83.5 870.5,88.5 876.5,92.5 884.5,96.5 891.5,100.5 899.5,103.5 904.5,105.5 909.5,110.5 914.5,114.5 920.5,116.5 925.5,119.5 930.5,122.5 935.5,124.5 940.5,127.5 946.5,129.5 949.5,131.5 956.5,131.5 966.5,133.5 977.5,133.5 983.5,135.5 990.5,136.5" fill="none" stroke="#ffffff" stroke-width="1"/>
<polyline points="0.5,323.5 3.5,323.5 5.5,323.5 8.5,323.5 11.5,324.5 14.5,324.5 16.5,324.5 19.5,324.5 22.5,324.5 24.5,324.5 27.5,324.5 30.5,324.5 32.5,324.5 35.5,324.5 38.5,324.5 41.5,324.5 43.5,324.5 46.5,324.5 49.5,324.5 51.5,323.5 54.5,323.5 57.5,321.5 59.5,320.5 62.5,319.5 65.5,318.5 68.5,317.5 70.5,316.5 73.5,315.5 76.5,315.5 78.5,314.5 81.5,314.5 84.5,313.5 86.5,313.5 89.5,313.5 92.5,313.5 95.5,314.5 97.5,315.5 100.5,317.5 103.5,317.5 105.5,318.5 108.5,319.5 111.5,320.5 113.5,321.5 116.5,322.5 119.5,322.5 122.5,323.5 124.5,323.5 127.5,323.5 130.5,323.5 132.5,323.5 135.5,323.5 138.5,322.5 140.5,321.5 143.5,320.5 146.5,320.5 148.5,320.5 151.5,320.5 154.5,320.5 157.5,320.5 159.5,321.5 162.5,323.5 165.5,324.5 167.5,325.5 170.5,327.5 173.5,328.5 175.5,329.5 178.5,330.5 181.5,331.5 184.5,331.5 186.5,332.5 189.5,333.5 192.5,333.5 194.5,334.5 197.5,334.5 200.5,334.5 202.5,333.5 205.5,333.5 208.5,332.5 211.5,331.5 213.5,330.5 216.5,329.5 219.5,328.5 221.5,327.5 224.5,327.5 227.5,326.5 229.5,326.5 232.5,325.5 235.5,326.5 238.5,326.5 240.5,326.5 243.5,326.5 246.5,327.5 248.5,327.5 251.5,327.5 254.5,328.5 256.5,328.5 259.5,328.5 262.5,328.5 265.5,329.5 267.5,329.5 270.5,329.5 273.5,329.5 275.5,328.5 278.5,327.5 281.5,325.5 283.5,324.5 286.5,323.5 289.5,322.5 292.5,322.5 294.5,321.5 297.5,320.5 300.5,320.5 302.5,319.5 305.5,319.5 308.5,319.5 310.5,319.5 313.5,319.5 316.5,319.5 319.5,319.5 321.5,318.5 324.5,318.5 327.5,317.5 329.5,316.5 332.5,316.5 335.5,315.5 337.5,315.5 340.5,315.5 343.5,316.5 346.5,316.5 348.5,316.5 351.5,317.5 354.5,317.5 356.5,317.5 359.5,316.5 362.5,316.5 364.5,316.5 367.5,315.5 370.5,314.5 373.5,314.5 375.5,313.5 378.5,313.5 381.5,313.5 383.5,313.5 386.5,313.5 389.5,314.5 391.5,314.5 394.5,315.5 397.5,316.5 400.5,316.5 402.5,317.5 405.5,318.5 408.5,319.5 410.5,320.5 413.5,321.5 416.5,321.5 418.5,322.5 421.5,323.5 424.5,323.5 427.5,324.5 429.5,324.5 432.5,325.5 435.5,325.5 437.5,326.5 440.5,326.5 443.5,327.5 445.5,327.5 448.5,328.5 451.5,328.5 454.5,328.5 456.5,329.5 459.5,329.5 462.5,329.5 464.5,328.5 467.5,328.5 470.5,328.5 472.5,329.5 475.5,329.5 478.5,329.5 481.5,329.5 483.5,329.5 486.5,329.5 489.5,329.5 491.5,329.5 494.5,330.5 497.5,330.5 499.5,330.5 502.5,330.5 505.5,331.5 508.5,331.5 510.5,332.5 513.5,332.5 516.5,332.5 518.5,331.5 520.5,328.5 524.5,322.5 527.5,323.5 530.5,326.5 534.5,316.5 537.5,290.5 540.5,275.5 544.5,257.5 548.5,224.5 552.5,192.5 559.5,173.5 565.5,163.5 575.5,157.5 585.5,157.5 592.5,160.5 600.5,165.5 610.5,163.5 620.5,165.5 627.5,166.5 635.5,163.5 645.5,163.5 655.5,165.5 665.5,166.5 672.5,169.5 682.5,158.5 691.5,156.5 700.5,153.5 708.5,149.5 714.5,134.5 719.5,131.5 729.5,127.5 738.5,116.5 748.5,109.5 752.5,108.5 763.5,107.5 775.5,108.5 783.5,106.5 787.5,96.5 794.5,83.5 801.5,79.5 809.5,72.5 815.5,67.5 821.5,70.5 828.5,71.5 836.5,78.5 846.5,83.5 856.5,82.5 864.5,84.5 870.5,90.5 878.5,96.5 886.5,100.5 894.5,106.5 900.5,108.5 904.5,107.5 910.5,114.5 914.5,117.5 925.5,121.5 935.5,126.5 940.5,128.5 946.5,131.5 949.5,133.5 977.5,133.5 983.5,137.5 990.5,138.5" fill="none" stroke="#ff0000" stroke-width="1"/>
<polyline points="0.5,323.5 3.5,323.5 5.5,323.5 8.5,324.5 11.5,324.5 14.5,324.5 16.5,324.5 19.5,324.5 22.5,324.5 24.5,324.5 27.5,324.5 30.5,324.5 32.5,324.5 35.5,324.5 38.5,324.5 41.5,324.5 43.5,324.5 46.5,324.5 49.5,323.5 51.5,323.5 54.5,322.5 57.5,320.5 59.5,319.5 62.5,318.5 65.5,316.5 68.5,315.5 70.5,315.5 73.5,314.5 76.5,314.5 78.5,313.5 81.5,313.5 84.5,313.5 86.5,312.5 89.5,312.5 92.5,312.5 95.5,314.5 97.5,316.5 100.5,318.5 103.5,319.5 105.5,319.5 108.5,320.5 111.5,321.5 113.5,322.5 116.5,323.5 119.5,323.5 122.5,324.5 124.5,324.5 127.5,323.5 130.5,323.5 132.5,323.5 135.5,323.5 138.5,322.5 140.5,321.5 143.5,320.5 146.5,319.5 148.5,319.5 151.5,319.5 154.5,320.5 157.5,320.5 159.5,322.5 162.5,323.5 165.5,325.5 167.5,327.5 170.5,328.5 173.5,329.5 175.5,330.5 178.5,331.5 181.5,332.5 184.5,333.5 186.5,333.5 189.5,334.5 192.5,335.5 194.5,335.5 197.5,335.5 200.5,334.5 202.5,333.5 205.5,332.5 208.5,331.5 211.5,330.5 213.5,329.5 216.5,328.5 219.5,327.5 221.5,326.5 224.5,325.5 227.5,325.5 229.5,325.5 232.5,325.5 235.5,325.5 238.5,325.5 240.5,326.5 243.5,326.5 246.5,327.5 248.5,327.5 251.5,328.5 254.5,328.5 256.5,328.5 259.5,329.5 262.5,329.5 265.5,329.5 267.5,329.5 270.5,329.5 273.5,329.5 275.5,327.5 278.5,326.5 281.5,324.5 283.5,323.5 286.5,322.5 289.5,321.5 292.5,320.5 294.5,320.5 297.5,319.5 300.5,319.5 302.5,319.5 305.5,319.5 308.5,319.5 310.5,319.5 313.5,319.5 316.5,319.5 319.5,318.5 321.5,318.5 324.5,317.5 327.5,316.5 329.5,315.5 332.5,315.5 335.5,314.5 337.5,314.5 340.5,315.5 343.5,315.5 346.5,316.5 348.5,317.5 351.5,317.5 354.5,317.5 356.5,317.5 359.5,316.5 362.5,316.5 364.5,316.5 367.5,315.5 370.5,314.5 373.5,313.5 375.5,313.5 378.5,313.5 381.5,313.5 383.5,313.5 386.5,313.5 389.5,314.5 391.5,314.5 394.5,315.5 397.5,316.5 400.5,317.5 402.5,318.5 405.5,319.5 408.5,320.5 410.5,321.5 413.5,322.5 416.5,322.5 418.5,323.5 421.5,324.5 424.5,324.5 427.5,325.5 429.5,325.5 432.5,325.5 435.5,326.5 437.5,326.5 440.5,327.5 443.5,327.5 445.5,328.5 448.5,328.5 451.5,329.5 454.5,329.5 456.5,329.5 459.5,329.5 462.5,329.5 464.5,328.5 467.5,328.5 470.5,328.5 472.5,329.5 475.5,329.5 478.5,329.5 481.5,329.5 483.5,329.5 486.5,329.5 489.5,329.5 491.5,330.5 494.5,330.5 497.5,330.5 499.5,330.5 502.5,331.5 505.5,331.5 508.5,332.5 510.5,332.5 513.5,332.5 516.5,332.5 518.5,328.5 521.5,326.5 523.5,320.5 525.5,313.5 526.5,318.5 528.5,322.5 530.5,323.5 532.5,322.5 535.5,320.5 536.5,300.5 537.5,289.5 540.5,257.5 544.5,224.5 548.5,192.5 552.5,166.5 556.5,160.5 560.5,157.5 567.5,159.5 572.5,157.5 578.5,154.5 584.5,156.5 590.5,160.5 600.5,166.5 605.5,165.5 612.5,163.5 620.5,165.5 627.5,167.5 633.5,163.5 638.5,162.5 645.5,163.5 650.5,165.5 656.5,167.5 663.5,165.5 668.5,166.5 672.5,166.5 680.5,156.5 683.5,151.5 689.5,153.5 697.5,152.5 704.5,149.5 710.5,137.5 713.5,128.5 716.5,126.5 721.5,128.5 729.5,122.5 736.5,113.5 744.5,106.5 748.5,106.5 757.5,106.5 766.5,104.5 772.5,106.5 778.5,110.5 783.5,108.5 787.5,86.5 794.5,77.5 801.5,76.5 809.5,67.5 813.5,62.5 818.5,67.5 824.5,70.5 830.5,76.5 838.5,82.5 846.5,84.5 854.5,80.5 860.5,84.5 866.5,86.5 870.5,95.5 876.5,98.5 884.5,101.5 890.5,106.5 896.5,109.5 902.5,106.5 904.5,107.5 910.5,116.5 920.5,120.5 925.5,122.5 935.5,128.5 946.5,133.5 949.5,136.5 954.5,132.5 966.5,133.5 977.5,133.5 983.5,138.5 990.5,140.5" fill="none" stroke="#ff00ff" stroke-width="1"/>
</g>
<g shape-rendering="crispEdges">
<polyline points="750.5,88.5 792.5,112.5" fill="none" stroke="#1e7fe0" stroke-width="1"/>
</g>
<g shape-rendering="crispEdges">
<rect x="0" y="0" width="1084" height="2" fill="#4c4c4c"/>
<rect x="0" y="438" width="1084" height="2" fill="#525252"/>
<rect x="1035" y="2" width="1" height="526" fill="#5c5c5c"/>
<rect x="1084" y="0" width="3" height="528" fill="#363636"/>
<rect x="1084" y="0" width="1" height="528" fill="#222"/>
<rect x="1036" y="11" width="4" height="1" fill="#8a8a8a"/>
<rect x="1036" y="48" width="4" height="1" fill="#8a8a8a"/>
<rect x="1036" y="86" width="4" height="1" fill="#8a8a8a"/>
<rect x="1036" y="123" width="4" height="1" fill="#8a8a8a"/>
<rect x="1036" y="160" width="4" height="1" fill="#8a8a8a"/>
<rect x="1036" y="197" width="4" height="1" fill="#8a8a8a"/>
<rect x="1036" y="235" width="4" height="1" fill="#8a8a8a"/>
<rect x="1036" y="272" width="4" height="1" fill="#8a8a8a"/>
<rect x="1036" y="309" width="4" height="1" fill="#8a8a8a"/>
<rect x="1036" y="346" width="4" height="1" fill="#8a8a8a"/>
<rect x="1036" y="384" width="4" height="1" fill="#8a8a8a"/>
<rect x="1036" y="421" width="4" height="1" fill="#8a8a8a"/>
<rect x="1036" y="450" width="4" height="1" fill="#8a8a8a"/>
<rect x="1036" y="492" width="4" height="1" fill="#8a8a8a"/>
</g>
<text class="ax" x="1041" y="16.1" fill="#e6e6e6" textLength="37.5" lengthAdjust="spacingAndGlyphs">162.00</text>
<text class="ax" x="1041" y="53.4" fill="#e6e6e6" textLength="37.5" lengthAdjust="spacingAndGlyphs">160.00</text>
<text class="ax" x="1041" y="90.6" fill="#e6e6e6" textLength="37.5" lengthAdjust="spacingAndGlyphs">158.00</text>
<text class="ax" x="1041" y="127.8" fill="#e6e6e6" textLength="37.5" lengthAdjust="spacingAndGlyphs">156.00</text>
<text class="ax" x="1041" y="165.1" fill="#e6e6e6" textLength="37.5" lengthAdjust="spacingAndGlyphs">154.00</text>
<text class="ax" x="1041" y="202.3" fill="#e6e6e6" textLength="37.5" lengthAdjust="spacingAndGlyphs">152.00</text>
<text class="ax" x="1041" y="239.6" fill="#e6e6e6" textLength="37.5" lengthAdjust="spacingAndGlyphs">150.00</text>
<text class="ax" x="1041" y="276.9" fill="#e6e6e6" textLength="37.5" lengthAdjust="spacingAndGlyphs">148.00</text>
<text class="ax" x="1041" y="314.1" fill="#e6e6e6" textLength="37.5" lengthAdjust="spacingAndGlyphs">146.00</text>
<text class="ax" x="1041" y="351.4" fill="#e6e6e6" textLength="37.5" lengthAdjust="spacingAndGlyphs">144.00</text>
<text class="ax" x="1041" y="388.6" fill="#e6e6e6" textLength="37.5" lengthAdjust="spacingAndGlyphs">142.00</text>
<text class="ax" x="1041" y="425.9" fill="#e6e6e6" textLength="37.5" lengthAdjust="spacingAndGlyphs">140.00</text>
<text class="ax" x="1041" y="455" fill="#e6e6e6" textLength="40.5" lengthAdjust="spacingAndGlyphs">100000</text>
<text class="ax" x="1041" y="497" fill="#e6e6e6" textLength="33.8" lengthAdjust="spacingAndGlyphs">50000</text>
<g>
<polygon points="1036,122.1 1043,115.1 1084,115.1 1084,129.1 1043,129.1" fill="#0000ff"/><text class="tg" x="1043.2" y="126.9" fill="#fff" textLength="36" lengthAdjust="spacingAndGlyphs">156.04</text>
<polygon points="1036,125.8 1043,118.8 1084,118.8 1084,132.8 1043,132.8" fill="#ffff00"/><text class="tg" x="1043.2" y="130.6" fill="#000" textLength="36" lengthAdjust="spacingAndGlyphs">155.82</text>
<polygon points="1036,135 1043,128.0 1084,128.0 1084,142.0 1043,142.0" fill="#00ff00"/><text class="tg" x="1043.2" y="139.8" fill="#000" textLength="36" lengthAdjust="spacingAndGlyphs">155.37</text>
<polygon points="1036,137 1043,130.0 1084,130.0 1084,144.0 1043,144.0" fill="#ffffff"/><text class="tg" x="1043.2" y="141.8" fill="#000" textLength="36" lengthAdjust="spacingAndGlyphs">155.26</text>
<polygon points="1036,139.3 1043,132.3 1084,132.3 1084,146.3 1043,146.3" fill="#ff00ff"/><text class="tg" x="1043.2" y="144.1" fill="#fff" textLength="36" lengthAdjust="spacingAndGlyphs">155.13</text>
<polygon points="1036,141 1043,134.0 1084,134.0 1084,148.0 1043,148.0" fill="#ff0000"/><text class="tg" x="1043.2" y="145.8" fill="#fff" textLength="36" lengthAdjust="spacingAndGlyphs">155.01</text>
<polygon points="1036,190 1043,183.0 1084,183.0 1084,197.0 1043,197.0" fill="#9900ff"/><text class="tg" x="1043.2" y="194.8" fill="#fff" textLength="36" lengthAdjust="spacingAndGlyphs">152.41</text>
<polygon points="1036,230 1043,223.0 1084,223.0 1084,237.0 1043,237.0" fill="#fa0a48"/><text class="tg" x="1043.2" y="234.8" fill="#fff" textLength="36" lengthAdjust="spacingAndGlyphs">150.29</text>
<polygon points="1036,253 1043,246.0 1084,246.0 1084,260.0 1043,260.0" fill="#50d010"/><text class="tg" x="1043.2" y="257.8" fill="#000" textLength="36" lengthAdjust="spacingAndGlyphs">149.07</text>
<polygon points="1036,292 1043,285.0 1084,285.0 1084,299.0 1043,299.0" fill="#0a64ff"/><text class="tg" x="1043.2" y="296.8" fill="#fff" textLength="36" lengthAdjust="spacingAndGlyphs">146.95</text>
<polygon points="1036,315 1043,308.0 1084,308.0 1084,322.0 1043,322.0" fill="#00aaff"/><text class="tg" x="1043.2" y="319.8" fill="#000" textLength="36" lengthAdjust="spacingAndGlyphs">145.73</text>
<polygon points="1036,355 1043,348.0 1084,348.0 1084,362.0 1043,362.0" fill="#0a64ff"/><text class="tg" x="1043.2" y="359.8" fill="#fff" textLength="36" lengthAdjust="spacingAndGlyphs">143.61</text>
<polygon points="1036,377 1043,370.0 1084,370.0 1084,384.0 1043,384.0" fill="#50d010"/><text class="tg" x="1043.2" y="381.8" fill="#000" textLength="36" lengthAdjust="spacingAndGlyphs">142.39</text>
<polygon points="1036,417 1043,410.0 1084,410.0 1084,424.0 1043,424.0" fill="#fa0a48"/><text class="tg" x="1043.2" y="421.8" fill="#fff" textLength="36" lengthAdjust="spacingAndGlyphs">140.27</text>
<polygon points="1036,501.3 1043,494.6 1084,494.6 1084,508.0 1043,508.0" fill="#6a6a6a"/><text class="tg" x="1043.2" y="506.1" fill="#f0f0f0" textLength="33.8" lengthAdjust="spacingAndGlyphs">39813</text>
<polygon points="1036,532 1043,525.0 1084,525.0 1084,539.0 1043,539.0" fill="#dd0000"/><text class="tg" x="1043.2" y="536.8" fill="#fff" textLength="27" lengthAdjust="spacingAndGlyphs">3813</text>
</g>
<text class="t" x="539" y="185.5" fill="#9900ff">R4.0 152.41</text>
<text class="t" x="539" y="224.5" fill="#fa0a48">R3.0 150.29</text>
<text class="t" x="539" y="247.5" fill="#50d010">R2.0 149.07</text>
<text class="t" x="539" y="287" fill="#0a64ff">R1.0 146.95</text>
<text class="t" x="539" y="310.5" fill="#00aaff">P(0) 145.73</text>
<text class="t" x="539" y="349.5" fill="#0a64ff">S1.0 143.61</text>
<text class="t" x="539" y="372.5" fill="#50d010">S2.0 142.39</text>
<text class="t" x="539" y="411.5" fill="#fa0a48">S3.0 140.27</text>
<text class="t" x="539" y="434" fill="#9900ff">S4.0 139.05</text>
<text class="g" x="227.5" y="257.8" fill="#8a8a8a">4</text>
<text class="t" x="222" y="43.8" fill="#ffffff">2.618 (160.08)</text>
<text class="t" x="222" y="125.8" fill="#ffffff">1.618 (155.72)</text>
<text class="t" x="222" y="175.8" fill="#ffffff">1 (153.02)</text>
<text class="t" x="222" y="207" fill="#ffffff">0.618 (151.36)</text>
<text class="t" x="222" y="257.8" fill="#ffffff">0 (148.67)</text>
<text class="ann" x="477.6" y="110" textLength="176.5" lengthAdjust="spacingAndGlyphs">Bought on the break</text>
<text class="ann" x="478" y="132" textLength="166.5" lengthAdjust="spacingAndGlyphs">of the morning high</text>
<text class="ann" x="645.5" y="42.5" textLength="215" lengthAdjust="spacingAndGlyphs">Sold right below 2.618%</text>
<text class="ann" x="645.5" y="65.5" textLength="114.5" lengthAdjust="spacingAndGlyphs">Retracement</text>
<polygon points="652,121 692,123.2 692.3,118 706.4,126.6 691.2,133 691.6,128 652,124.8" fill="#d40000"/>
</svg></body></html>
